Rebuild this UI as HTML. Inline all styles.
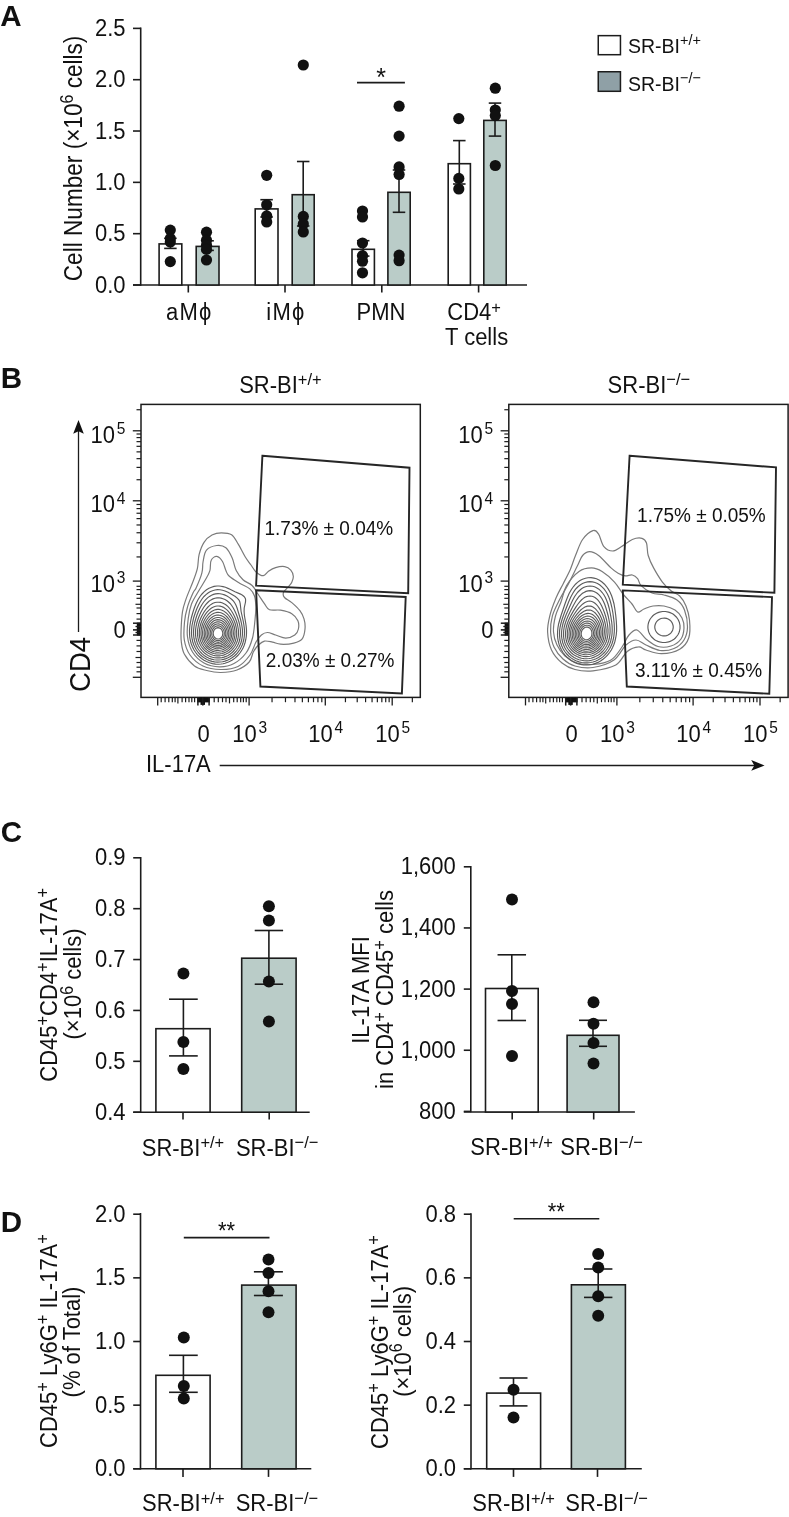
<!DOCTYPE html>
<html><head><meta charset="utf-8"><style>
html,body{margin:0;padding:0;background:#fff;width:789px;height:1517px;overflow:hidden}
svg{display:block;will-change:transform}
text{font-family:"Liberation Sans",sans-serif;fill:#111}
</style></head><body>
<svg width="789" height="1517" viewBox="0 0 789 1517">
<text x="0.30" y="26.40" font-size="29.5" text-anchor="start" font-weight="bold" >A</text>
<line x1="140.70" y1="27.50" x2="140.70" y2="285.80" stroke="#1c1c1c" stroke-width="1.6"/>
<line x1="133.00" y1="285.00" x2="527.00" y2="285.00" stroke="#1c1c1c" stroke-width="1.6"/>
<line x1="133.00" y1="28.38" x2="140.70" y2="28.38" stroke="#1c1c1c" stroke-width="1.6"/>
<text transform="translate(125.50,35.88) scale(1,1.05)" x="0" y="0" font-size="22" text-anchor="end" >2.5</text>
<line x1="133.00" y1="79.70" x2="140.70" y2="79.70" stroke="#1c1c1c" stroke-width="1.6"/>
<text transform="translate(125.50,87.20) scale(1,1.05)" x="0" y="0" font-size="22" text-anchor="end" >2.0</text>
<line x1="133.00" y1="131.02" x2="140.70" y2="131.02" stroke="#1c1c1c" stroke-width="1.6"/>
<text transform="translate(125.50,138.52) scale(1,1.05)" x="0" y="0" font-size="22" text-anchor="end" >1.5</text>
<line x1="133.00" y1="182.35" x2="140.70" y2="182.35" stroke="#1c1c1c" stroke-width="1.6"/>
<text transform="translate(125.50,189.85) scale(1,1.05)" x="0" y="0" font-size="22" text-anchor="end" >1.0</text>
<line x1="133.00" y1="233.68" x2="140.70" y2="233.68" stroke="#1c1c1c" stroke-width="1.6"/>
<text transform="translate(125.50,241.18) scale(1,1.05)" x="0" y="0" font-size="22" text-anchor="end" >0.5</text>
<line x1="133.00" y1="285.00" x2="140.70" y2="285.00" stroke="#1c1c1c" stroke-width="1.6"/>
<text transform="translate(125.50,292.50) scale(1,1.05)" x="0" y="0" font-size="22" text-anchor="end" >0.0</text>
<line x1="188.30" y1="285.00" x2="188.30" y2="292.50" stroke="#1c1c1c" stroke-width="1.6"/>
<line x1="285.00" y1="285.00" x2="285.00" y2="292.50" stroke="#1c1c1c" stroke-width="1.6"/>
<line x1="381.80" y1="285.00" x2="381.80" y2="292.50" stroke="#1c1c1c" stroke-width="1.6"/>
<line x1="478.60" y1="285.00" x2="478.60" y2="292.50" stroke="#1c1c1c" stroke-width="1.6"/>
<rect x="159.10" y="243.90" width="22.70" height="41.10" fill="#fff" stroke="#1c1c1c" stroke-width="1.6"/>
<rect x="196.20" y="246.40" width="22.80" height="38.60" fill="#baccc8" stroke="#1c1c1c" stroke-width="1.6"/>
<rect x="255.20" y="208.90" width="22.80" height="76.10" fill="#fff" stroke="#1c1c1c" stroke-width="1.6"/>
<rect x="292.20" y="194.70" width="22.00" height="90.30" fill="#baccc8" stroke="#1c1c1c" stroke-width="1.6"/>
<rect x="352.00" y="249.30" width="22.40" height="35.70" fill="#fff" stroke="#1c1c1c" stroke-width="1.6"/>
<rect x="387.90" y="192.30" width="22.30" height="92.70" fill="#baccc8" stroke="#1c1c1c" stroke-width="1.6"/>
<rect x="448.20" y="163.70" width="22.20" height="121.30" fill="#fff" stroke="#1c1c1c" stroke-width="1.6"/>
<rect x="483.80" y="120.40" width="22.40" height="164.60" fill="#baccc8" stroke="#1c1c1c" stroke-width="1.6"/>
<line x1="170.40" y1="238.30" x2="170.40" y2="248.40" stroke="#1c1c1c" stroke-width="1.6"/>
<line x1="164.15" y1="238.30" x2="176.65" y2="238.30" stroke="#1c1c1c" stroke-width="1.6"/>
<line x1="164.15" y1="248.40" x2="176.65" y2="248.40" stroke="#1c1c1c" stroke-width="1.6"/>
<line x1="207.60" y1="240.80" x2="207.60" y2="250.40" stroke="#1c1c1c" stroke-width="1.6"/>
<line x1="201.35" y1="240.80" x2="213.85" y2="240.80" stroke="#1c1c1c" stroke-width="1.6"/>
<line x1="201.35" y1="250.40" x2="213.85" y2="250.40" stroke="#1c1c1c" stroke-width="1.6"/>
<line x1="266.60" y1="199.70" x2="266.60" y2="217.00" stroke="#1c1c1c" stroke-width="1.6"/>
<line x1="260.35" y1="199.70" x2="272.85" y2="199.70" stroke="#1c1c1c" stroke-width="1.6"/>
<line x1="260.35" y1="217.00" x2="272.85" y2="217.00" stroke="#1c1c1c" stroke-width="1.6"/>
<line x1="303.20" y1="161.50" x2="303.20" y2="226.00" stroke="#1c1c1c" stroke-width="1.6"/>
<line x1="296.95" y1="161.50" x2="309.45" y2="161.50" stroke="#1c1c1c" stroke-width="1.6"/>
<line x1="296.95" y1="226.00" x2="309.45" y2="226.00" stroke="#1c1c1c" stroke-width="1.6"/>
<line x1="363.20" y1="240.70" x2="363.20" y2="256.10" stroke="#1c1c1c" stroke-width="1.6"/>
<line x1="356.95" y1="240.70" x2="369.45" y2="240.70" stroke="#1c1c1c" stroke-width="1.6"/>
<line x1="356.95" y1="256.10" x2="369.45" y2="256.10" stroke="#1c1c1c" stroke-width="1.6"/>
<line x1="399.00" y1="170.00" x2="399.00" y2="212.30" stroke="#1c1c1c" stroke-width="1.6"/>
<line x1="392.75" y1="170.00" x2="405.25" y2="170.00" stroke="#1c1c1c" stroke-width="1.6"/>
<line x1="392.75" y1="212.30" x2="405.25" y2="212.30" stroke="#1c1c1c" stroke-width="1.6"/>
<line x1="459.30" y1="140.60" x2="459.30" y2="184.00" stroke="#1c1c1c" stroke-width="1.6"/>
<line x1="453.05" y1="140.60" x2="465.55" y2="140.60" stroke="#1c1c1c" stroke-width="1.6"/>
<line x1="453.05" y1="184.00" x2="465.55" y2="184.00" stroke="#1c1c1c" stroke-width="1.6"/>
<line x1="495.00" y1="103.10" x2="495.00" y2="136.10" stroke="#1c1c1c" stroke-width="1.6"/>
<line x1="488.75" y1="103.10" x2="501.25" y2="103.10" stroke="#1c1c1c" stroke-width="1.6"/>
<line x1="488.75" y1="136.10" x2="501.25" y2="136.10" stroke="#1c1c1c" stroke-width="1.6"/>
<circle cx="170.30" cy="230.10" r="5.6" fill="#111"/>
<circle cx="170.30" cy="238.50" r="5.6" fill="#111"/>
<circle cx="170.30" cy="242.00" r="5.6" fill="#111"/>
<circle cx="170.30" cy="261.60" r="5.6" fill="#111"/>
<circle cx="206.50" cy="232.20" r="5.6" fill="#111"/>
<circle cx="206.50" cy="240.30" r="5.6" fill="#111"/>
<circle cx="206.50" cy="245.30" r="5.6" fill="#111"/>
<circle cx="206.50" cy="249.40" r="5.6" fill="#111"/>
<circle cx="206.50" cy="260.00" r="5.6" fill="#111"/>
<circle cx="266.70" cy="175.30" r="5.6" fill="#111"/>
<circle cx="266.70" cy="204.80" r="5.6" fill="#111"/>
<circle cx="266.70" cy="215.90" r="5.6" fill="#111"/>
<circle cx="266.70" cy="222.00" r="5.6" fill="#111"/>
<circle cx="303.30" cy="65.00" r="5.6" fill="#111"/>
<circle cx="303.30" cy="216.40" r="5.6" fill="#111"/>
<circle cx="303.30" cy="224.00" r="5.6" fill="#111"/>
<circle cx="303.30" cy="232.00" r="5.6" fill="#111"/>
<circle cx="362.50" cy="211.00" r="5.6" fill="#111"/>
<circle cx="362.50" cy="217.00" r="5.6" fill="#111"/>
<circle cx="362.50" cy="243.00" r="5.6" fill="#111"/>
<circle cx="362.50" cy="255.60" r="5.6" fill="#111"/>
<circle cx="362.50" cy="261.20" r="5.6" fill="#111"/>
<circle cx="362.50" cy="272.80" r="5.6" fill="#111"/>
<circle cx="399.10" cy="106.20" r="5.6" fill="#111"/>
<circle cx="399.10" cy="136.10" r="5.6" fill="#111"/>
<circle cx="399.10" cy="166.90" r="5.6" fill="#111"/>
<circle cx="399.10" cy="174.50" r="5.6" fill="#111"/>
<circle cx="399.10" cy="255.10" r="5.6" fill="#111"/>
<circle cx="399.10" cy="260.70" r="5.6" fill="#111"/>
<circle cx="458.80" cy="118.60" r="5.6" fill="#111"/>
<circle cx="458.80" cy="178.40" r="5.6" fill="#111"/>
<circle cx="458.80" cy="189.00" r="5.6" fill="#111"/>
<circle cx="495.30" cy="88.20" r="5.6" fill="#111"/>
<circle cx="495.30" cy="110.00" r="5.6" fill="#111"/>
<circle cx="495.30" cy="115.60" r="5.6" fill="#111"/>
<circle cx="495.30" cy="165.50" r="5.6" fill="#111"/>
<line x1="357.00" y1="82.60" x2="404.90" y2="82.60" stroke="#1c1c1c" stroke-width="1.6"/>
<text transform="translate(381.00,86.30) scale(1,1.05)" x="0" y="0" font-size="25" text-anchor="middle" >*</text>
<text transform="translate(189.30,320.00) scale(1,1.05)" x="0" y="0" font-size="22" text-anchor="middle" letter-spacing="1.3">aMϕ</text>
<text transform="translate(286.00,320.00) scale(1,1.05)" x="0" y="0" font-size="22" text-anchor="middle" letter-spacing="1.3">iMϕ</text>
<text transform="translate(381.00,320.00) scale(1,1.05)" x="0" y="0" font-size="22" text-anchor="middle" >PMN</text>
<text transform="translate(447.30,320.00) scale(1,1.05)" x="0" y="0" font-size="22" text-anchor="start" >CD4<tspan font-size="16.5" dy="-7">+</tspan></text>
<text transform="translate(445.00,345.40) scale(1,1.05)" x="0" y="0" font-size="22" text-anchor="start" >T cells</text>
<text transform="translate(81.70,158.40) rotate(-90) scale(1,1.1)" x="0" y="0" font-size="22.6" text-anchor="middle">Cell Number (×10<tspan font-size="16" dy="-8">6</tspan><tspan dy="8"> cells)</tspan></text>
<rect x="598.25" y="35.65" width="22.20" height="19.05" fill="#fff" stroke="#1c1c1c" stroke-width="1.5"/>
<rect x="598.25" y="71.75" width="22.20" height="19.55" fill="#8fa0a6" stroke="#1c1c1c" stroke-width="1.5"/>
<text transform="translate(628.00,53.20) scale(1,1.05)" x="0" y="0" font-size="19.5" text-anchor="start" >SR-BI<tspan font-size="14.5" dy="-7.5">+/+</tspan></text>
<text transform="translate(628.00,90.50) scale(1,1.05)" x="0" y="0" font-size="19.5" text-anchor="start" >SR-BI<tspan font-size="14.5" dy="-7.5">−/−</tspan></text>
<text x="0.80" y="842.00" font-size="29.5" text-anchor="start" font-weight="bold" >C</text>
<line x1="140.70" y1="857.00" x2="140.70" y2="1113.00" stroke="#1c1c1c" stroke-width="1.6"/>
<line x1="133.20" y1="1112.20" x2="309.70" y2="1112.20" stroke="#1c1c1c" stroke-width="1.6"/>
<line x1="133.20" y1="857.80" x2="140.70" y2="857.80" stroke="#1c1c1c" stroke-width="1.6"/>
<text transform="translate(125.50,865.30) scale(1,1.05)" x="0" y="0" font-size="22" text-anchor="end" >0.9</text>
<line x1="133.20" y1="908.68" x2="140.70" y2="908.68" stroke="#1c1c1c" stroke-width="1.6"/>
<text transform="translate(125.50,916.18) scale(1,1.05)" x="0" y="0" font-size="22" text-anchor="end" >0.8</text>
<line x1="133.20" y1="959.56" x2="140.70" y2="959.56" stroke="#1c1c1c" stroke-width="1.6"/>
<text transform="translate(125.50,967.06) scale(1,1.05)" x="0" y="0" font-size="22" text-anchor="end" >0.7</text>
<line x1="133.20" y1="1010.44" x2="140.70" y2="1010.44" stroke="#1c1c1c" stroke-width="1.6"/>
<text transform="translate(125.50,1017.94) scale(1,1.05)" x="0" y="0" font-size="22" text-anchor="end" >0.6</text>
<line x1="133.20" y1="1061.32" x2="140.70" y2="1061.32" stroke="#1c1c1c" stroke-width="1.6"/>
<text transform="translate(125.50,1068.82) scale(1,1.05)" x="0" y="0" font-size="22" text-anchor="end" >0.5</text>
<line x1="133.20" y1="1112.20" x2="140.70" y2="1112.20" stroke="#1c1c1c" stroke-width="1.6"/>
<text transform="translate(125.50,1119.70) scale(1,1.05)" x="0" y="0" font-size="22" text-anchor="end" >0.4</text>
<line x1="183.00" y1="1112.20" x2="183.00" y2="1119.50" stroke="#1c1c1c" stroke-width="1.6"/>
<line x1="269.20" y1="1112.20" x2="269.20" y2="1119.50" stroke="#1c1c1c" stroke-width="1.6"/>
<rect x="155.90" y="1028.70" width="54.20" height="83.50" fill="#fff" stroke="#1c1c1c" stroke-width="1.6"/>
<rect x="241.70" y="958.20" width="54.40" height="154.00" fill="#baccc8" stroke="#1c1c1c" stroke-width="1.6"/>
<line x1="183.40" y1="999.20" x2="183.40" y2="1055.90" stroke="#1c1c1c" stroke-width="1.6"/>
<line x1="169.05" y1="999.20" x2="197.75" y2="999.20" stroke="#1c1c1c" stroke-width="1.6"/>
<line x1="169.05" y1="1055.90" x2="197.75" y2="1055.90" stroke="#1c1c1c" stroke-width="1.6"/>
<line x1="268.90" y1="930.50" x2="268.90" y2="984.20" stroke="#1c1c1c" stroke-width="1.6"/>
<line x1="254.70" y1="930.50" x2="283.10" y2="930.50" stroke="#1c1c1c" stroke-width="1.6"/>
<line x1="254.70" y1="984.20" x2="283.10" y2="984.20" stroke="#1c1c1c" stroke-width="1.6"/>
<circle cx="183.40" cy="973.40" r="6" fill="#111"/>
<circle cx="183.40" cy="1041.90" r="6" fill="#111"/>
<circle cx="183.40" cy="1068.90" r="6" fill="#111"/>
<circle cx="268.90" cy="906.20" r="6" fill="#111"/>
<circle cx="268.90" cy="920.60" r="6" fill="#111"/>
<circle cx="268.90" cy="981.60" r="6" fill="#111"/>
<circle cx="268.90" cy="1021.40" r="6" fill="#111"/>
<text transform="translate(183.00,1155.70) scale(1,1.05)" x="0" y="0" font-size="22" text-anchor="middle" >SR-BI<tspan font-size="16.5" dy="-7">+/+</tspan></text>
<text transform="translate(277.20,1155.70) scale(1,1.05)" x="0" y="0" font-size="22" text-anchor="middle" >SR-BI<tspan font-size="16.5" dy="-7">−/−</tspan></text>
<text transform="translate(56.60,984.80) rotate(-90) scale(1,1.1)" x="0" y="0" font-size="22" text-anchor="middle">CD45<tspan font-size="16.5" dy="-7">+</tspan><tspan dy="7">CD4</tspan><tspan font-size="16.5" dy="-7">+</tspan><tspan dy="7">IL-17A</tspan><tspan font-size="16.5" dy="-7">+</tspan></text>
<text transform="translate(81.40,984.00) rotate(-90) scale(1,1.1)" x="0" y="0" font-size="22" text-anchor="middle">(×10<tspan font-size="16" dy="-8">6</tspan><tspan dy="8"> cells)</tspan></text>
<line x1="470.80" y1="866.00" x2="470.80" y2="1112.20" stroke="#1c1c1c" stroke-width="1.6"/>
<line x1="463.80" y1="1112.00" x2="634.90" y2="1112.00" stroke="#1c1c1c" stroke-width="1.6"/>
<line x1="463.80" y1="866.80" x2="470.80" y2="866.80" stroke="#1c1c1c" stroke-width="1.6"/>
<text transform="translate(455.80,874.30) scale(1,1.05)" x="0" y="0" font-size="22" text-anchor="end" >1,600</text>
<line x1="463.80" y1="927.95" x2="470.80" y2="927.95" stroke="#1c1c1c" stroke-width="1.6"/>
<text transform="translate(455.80,935.45) scale(1,1.05)" x="0" y="0" font-size="22" text-anchor="end" >1,400</text>
<line x1="463.80" y1="989.10" x2="470.80" y2="989.10" stroke="#1c1c1c" stroke-width="1.6"/>
<text transform="translate(455.80,996.60) scale(1,1.05)" x="0" y="0" font-size="22" text-anchor="end" >1,200</text>
<line x1="463.80" y1="1050.25" x2="470.80" y2="1050.25" stroke="#1c1c1c" stroke-width="1.6"/>
<text transform="translate(455.80,1057.75) scale(1,1.05)" x="0" y="0" font-size="22" text-anchor="end" >1,000</text>
<line x1="463.80" y1="1111.40" x2="470.80" y2="1111.40" stroke="#1c1c1c" stroke-width="1.6"/>
<text transform="translate(455.80,1118.90) scale(1,1.05)" x="0" y="0" font-size="22" text-anchor="end" >800</text>
<line x1="512.20" y1="1112.00" x2="512.20" y2="1119.50" stroke="#1c1c1c" stroke-width="1.6"/>
<line x1="593.70" y1="1112.00" x2="593.70" y2="1119.50" stroke="#1c1c1c" stroke-width="1.6"/>
<rect x="485.50" y="988.50" width="52.70" height="123.50" fill="#fff" stroke="#1c1c1c" stroke-width="1.6"/>
<rect x="567.10" y="1035.30" width="51.90" height="76.70" fill="#baccc8" stroke="#1c1c1c" stroke-width="1.6"/>
<line x1="511.80" y1="954.80" x2="511.80" y2="1020.50" stroke="#1c1c1c" stroke-width="1.6"/>
<line x1="497.55" y1="954.80" x2="526.05" y2="954.80" stroke="#1c1c1c" stroke-width="1.6"/>
<line x1="497.55" y1="1020.50" x2="526.05" y2="1020.50" stroke="#1c1c1c" stroke-width="1.6"/>
<line x1="593.00" y1="1020.30" x2="593.00" y2="1046.30" stroke="#1c1c1c" stroke-width="1.6"/>
<line x1="579.00" y1="1020.30" x2="607.00" y2="1020.30" stroke="#1c1c1c" stroke-width="1.6"/>
<line x1="579.00" y1="1046.30" x2="607.00" y2="1046.30" stroke="#1c1c1c" stroke-width="1.6"/>
<circle cx="512.00" cy="899.40" r="6" fill="#111"/>
<circle cx="512.00" cy="991.00" r="6" fill="#111"/>
<circle cx="512.00" cy="1003.90" r="6" fill="#111"/>
<circle cx="512.00" cy="1056.00" r="6" fill="#111"/>
<circle cx="593.50" cy="1002.20" r="6" fill="#111"/>
<circle cx="593.50" cy="1023.70" r="6" fill="#111"/>
<circle cx="593.50" cy="1043.10" r="6" fill="#111"/>
<circle cx="593.50" cy="1063.50" r="6" fill="#111"/>
<text transform="translate(511.60,1155.00) scale(1,1.05)" x="0" y="0" font-size="22" text-anchor="middle" >SR-BI<tspan font-size="16.5" dy="-7">+/+</tspan></text>
<text transform="translate(601.60,1155.00) scale(1,1.05)" x="0" y="0" font-size="22" text-anchor="middle" >SR-BI<tspan font-size="16.5" dy="-7">−/−</tspan></text>
<text transform="translate(369.40,990.00) rotate(-90) scale(1,1.1)" x="0" y="0" font-size="22" text-anchor="middle">IL-17A MFI</text>
<text transform="translate(393.40,989.50) rotate(-90) scale(1,1.1)" x="0" y="0" font-size="22" text-anchor="middle">in CD4<tspan font-size="16.5" dy="-7">+</tspan><tspan dy="7"> CD45</tspan><tspan font-size="16.5" dy="-7">+</tspan><tspan dy="7"> cells</tspan></text>
<text x="0.80" y="1232.20" font-size="29.5" text-anchor="start" font-weight="bold" >D</text>
<line x1="140.50" y1="1213.10" x2="140.50" y2="1469.60" stroke="#1c1c1c" stroke-width="1.6"/>
<line x1="133.20" y1="1468.80" x2="311.30" y2="1468.80" stroke="#1c1c1c" stroke-width="1.6"/>
<line x1="133.20" y1="1214.20" x2="140.50" y2="1214.20" stroke="#1c1c1c" stroke-width="1.6"/>
<text transform="translate(125.50,1221.70) scale(1,1.05)" x="0" y="0" font-size="22" text-anchor="end" >2.0</text>
<line x1="133.20" y1="1277.85" x2="140.50" y2="1277.85" stroke="#1c1c1c" stroke-width="1.6"/>
<text transform="translate(125.50,1285.35) scale(1,1.05)" x="0" y="0" font-size="22" text-anchor="end" >1.5</text>
<line x1="133.20" y1="1341.50" x2="140.50" y2="1341.50" stroke="#1c1c1c" stroke-width="1.6"/>
<text transform="translate(125.50,1349.00) scale(1,1.05)" x="0" y="0" font-size="22" text-anchor="end" >1.0</text>
<line x1="133.20" y1="1405.15" x2="140.50" y2="1405.15" stroke="#1c1c1c" stroke-width="1.6"/>
<text transform="translate(125.50,1412.65) scale(1,1.05)" x="0" y="0" font-size="22" text-anchor="end" >0.5</text>
<line x1="133.20" y1="1468.80" x2="140.50" y2="1468.80" stroke="#1c1c1c" stroke-width="1.6"/>
<text transform="translate(125.50,1476.30) scale(1,1.05)" x="0" y="0" font-size="22" text-anchor="end" >0.0</text>
<line x1="183.00" y1="1468.80" x2="183.00" y2="1476.90" stroke="#1c1c1c" stroke-width="1.6"/>
<line x1="268.50" y1="1468.80" x2="268.50" y2="1476.90" stroke="#1c1c1c" stroke-width="1.6"/>
<rect x="155.90" y="1375.30" width="54.20" height="93.50" fill="#fff" stroke="#1c1c1c" stroke-width="1.6"/>
<rect x="241.70" y="1285.10" width="54.40" height="183.70" fill="#baccc8" stroke="#1c1c1c" stroke-width="1.6"/>
<line x1="183.40" y1="1355.30" x2="183.40" y2="1392.30" stroke="#1c1c1c" stroke-width="1.6"/>
<line x1="169.05" y1="1355.30" x2="197.75" y2="1355.30" stroke="#1c1c1c" stroke-width="1.6"/>
<line x1="169.05" y1="1392.30" x2="197.75" y2="1392.30" stroke="#1c1c1c" stroke-width="1.6"/>
<line x1="268.40" y1="1271.80" x2="268.40" y2="1295.50" stroke="#1c1c1c" stroke-width="1.6"/>
<line x1="253.90" y1="1271.80" x2="282.90" y2="1271.80" stroke="#1c1c1c" stroke-width="1.6"/>
<line x1="253.90" y1="1295.50" x2="282.90" y2="1295.50" stroke="#1c1c1c" stroke-width="1.6"/>
<circle cx="183.80" cy="1337.60" r="6" fill="#111"/>
<circle cx="183.80" cy="1385.90" r="6" fill="#111"/>
<circle cx="183.80" cy="1398.60" r="6" fill="#111"/>
<circle cx="268.50" cy="1259.60" r="6" fill="#111"/>
<circle cx="268.50" cy="1273.10" r="6" fill="#111"/>
<circle cx="268.50" cy="1291.20" r="6" fill="#111"/>
<circle cx="268.50" cy="1312.30" r="6" fill="#111"/>
<line x1="183.80" y1="1237.60" x2="269.50" y2="1237.60" stroke="#1c1c1c" stroke-width="1.6"/>
<text transform="translate(226.60,1239.30) scale(1,1.05)" x="0" y="0" font-size="22" text-anchor="middle" >**</text>
<text transform="translate(183.30,1511.00) scale(1,1.05)" x="0" y="0" font-size="22" text-anchor="middle" >SR-BI<tspan font-size="16.5" dy="-7">+/+</tspan></text>
<text transform="translate(276.90,1511.00) scale(1,1.05)" x="0" y="0" font-size="22" text-anchor="middle" >SR-BI<tspan font-size="16.5" dy="-7">−/−</tspan></text>
<text transform="translate(57.10,1341.00) rotate(-90) scale(1,1.1)" x="0" y="0" font-size="22" text-anchor="middle">CD45<tspan font-size="16.5" dy="-7">+</tspan><tspan dy="7"> Ly6G</tspan><tspan font-size="16.5" dy="-7">+</tspan><tspan dy="7"> IL-17A</tspan><tspan font-size="16.5" dy="-7">+</tspan></text>
<text transform="translate(80.30,1342.00) rotate(-90) scale(1,1.1)" x="0" y="0" font-size="22" text-anchor="middle">(% of Total)</text>
<line x1="471.00" y1="1213.20" x2="471.00" y2="1469.60" stroke="#1c1c1c" stroke-width="1.6"/>
<line x1="463.80" y1="1468.80" x2="641.80" y2="1468.80" stroke="#1c1c1c" stroke-width="1.6"/>
<line x1="463.80" y1="1214.20" x2="471.00" y2="1214.20" stroke="#1c1c1c" stroke-width="1.6"/>
<text transform="translate(456.00,1221.70) scale(1,1.05)" x="0" y="0" font-size="22" text-anchor="end" >0.8</text>
<line x1="463.80" y1="1277.85" x2="471.00" y2="1277.85" stroke="#1c1c1c" stroke-width="1.6"/>
<text transform="translate(456.00,1285.35) scale(1,1.05)" x="0" y="0" font-size="22" text-anchor="end" >0.6</text>
<line x1="463.80" y1="1341.50" x2="471.00" y2="1341.50" stroke="#1c1c1c" stroke-width="1.6"/>
<text transform="translate(456.00,1349.00) scale(1,1.05)" x="0" y="0" font-size="22" text-anchor="end" >0.4</text>
<line x1="463.80" y1="1405.15" x2="471.00" y2="1405.15" stroke="#1c1c1c" stroke-width="1.6"/>
<text transform="translate(456.00,1412.65) scale(1,1.05)" x="0" y="0" font-size="22" text-anchor="end" >0.2</text>
<line x1="463.80" y1="1468.80" x2="471.00" y2="1468.80" stroke="#1c1c1c" stroke-width="1.6"/>
<text transform="translate(456.00,1476.30) scale(1,1.05)" x="0" y="0" font-size="22" text-anchor="end" >0.0</text>
<line x1="513.50" y1="1468.80" x2="513.50" y2="1476.90" stroke="#1c1c1c" stroke-width="1.6"/>
<line x1="597.50" y1="1468.80" x2="597.50" y2="1476.90" stroke="#1c1c1c" stroke-width="1.6"/>
<rect x="486.70" y="1393.10" width="53.90" height="75.70" fill="#fff" stroke="#1c1c1c" stroke-width="1.6"/>
<rect x="571.40" y="1284.80" width="54.00" height="184.00" fill="#baccc8" stroke="#1c1c1c" stroke-width="1.6"/>
<line x1="513.50" y1="1378.00" x2="513.50" y2="1405.90" stroke="#1c1c1c" stroke-width="1.6"/>
<line x1="499.50" y1="1378.00" x2="527.50" y2="1378.00" stroke="#1c1c1c" stroke-width="1.6"/>
<line x1="499.50" y1="1405.90" x2="527.50" y2="1405.90" stroke="#1c1c1c" stroke-width="1.6"/>
<line x1="598.20" y1="1269.00" x2="598.20" y2="1297.40" stroke="#1c1c1c" stroke-width="1.6"/>
<line x1="584.00" y1="1269.00" x2="612.40" y2="1269.00" stroke="#1c1c1c" stroke-width="1.6"/>
<line x1="584.00" y1="1297.40" x2="612.40" y2="1297.40" stroke="#1c1c1c" stroke-width="1.6"/>
<circle cx="513.50" cy="1389.70" r="6" fill="#111"/>
<circle cx="513.50" cy="1417.60" r="6" fill="#111"/>
<circle cx="598.20" cy="1253.90" r="6" fill="#111"/>
<circle cx="598.20" cy="1267.40" r="6" fill="#111"/>
<circle cx="598.20" cy="1296.30" r="6" fill="#111"/>
<circle cx="598.20" cy="1315.70" r="6" fill="#111"/>
<line x1="513.70" y1="1218.70" x2="599.30" y2="1218.70" stroke="#1c1c1c" stroke-width="1.6"/>
<text transform="translate(556.20,1220.30) scale(1,1.05)" x="0" y="0" font-size="22" text-anchor="middle" >**</text>
<text transform="translate(513.60,1511.00) scale(1,1.05)" x="0" y="0" font-size="22" text-anchor="middle" >SR-BI<tspan font-size="16.5" dy="-7">+/+</tspan></text>
<text transform="translate(606.60,1511.00) scale(1,1.05)" x="0" y="0" font-size="22" text-anchor="middle" >SR-BI<tspan font-size="16.5" dy="-7">−/−</tspan></text>
<text transform="translate(387.70,1342.00) rotate(-90) scale(1,1.1)" x="0" y="0" font-size="22" text-anchor="middle">CD45<tspan font-size="16.5" dy="-7">+</tspan><tspan dy="7"> Ly6G</tspan><tspan font-size="16.5" dy="-7">+</tspan><tspan dy="7"> IL-17A</tspan><tspan font-size="16.5" dy="-7">+</tspan></text>
<text transform="translate(411.00,1341.40) rotate(-90) scale(1,1.1)" x="0" y="0" font-size="22" text-anchor="middle">(×10<tspan font-size="16" dy="-8">6</tspan><tspan dy="8"> cells)</tspan></text>
<g fill="none" stroke="#7a7a7a" stroke-width="1.2"><path d="M221.3,532.8 C224.6,532.8 228.8,532.8 231.6,534.7 C234.4,536.6 236.1,540.7 238.4,544.4 C240.7,548.1 243.2,553.6 245.3,557.0 C247.4,560.4 249.2,562.5 251.0,565.0 C252.8,567.5 254.2,570.4 256.3,572.2 C258.4,574.0 261.4,575.9 263.4,575.7 C265.4,575.5 266.5,572.6 268.5,571.2 C270.5,569.9 272.9,568.4 275.6,567.6 C278.3,566.8 282.2,566.2 284.7,566.6 C287.2,567.0 289.4,568.5 290.8,570.1 C292.2,571.7 293.1,574.2 293.3,576.2 C293.5,578.2 292.6,580.6 291.8,582.3 C291.0,584.0 290.1,584.7 288.7,586.4 C287.3,588.1 284.2,590.5 283.5,592.4 C282.8,594.2 283.1,595.8 284.5,597.5 C285.9,599.2 289.2,600.4 291.8,602.6 C294.4,604.8 297.9,608.0 299.9,610.7 C301.9,613.4 303.1,615.8 304.0,618.8 C304.9,621.8 305.3,625.6 305.0,629.0 C304.7,632.4 303.9,636.8 302.0,639.1 C300.1,641.5 297.4,642.2 293.8,643.1 C290.2,644.0 284.2,644.4 280.6,644.2 C277.1,644.0 275.2,642.6 272.5,642.1 C269.8,641.6 266.7,640.6 264.4,641.1 C262.1,641.6 260.4,643.2 258.5,645.0 C256.6,646.8 254.9,649.2 253.3,652.0 C251.8,654.8 251.9,659.0 249.2,662.0 C246.5,665.0 241.7,668.2 237.0,670.0 C232.3,671.8 225.9,672.4 220.8,672.5 C215.7,672.6 211.0,671.6 206.6,670.5 C202.2,669.4 198.2,668.8 194.5,666.0 C190.8,663.2 186.5,658.0 184.3,654.0 C182.1,650.0 181.8,645.8 181.3,641.7 C180.8,637.6 180.9,634.5 181.1,629.5 C181.3,624.5 181.7,616.8 182.5,611.7 C183.3,606.6 184.3,604.1 186.0,599.1 C187.7,594.1 190.9,587.1 192.8,582.0 C194.7,576.9 196.4,572.8 197.4,568.3 C198.4,563.8 198.0,559.1 199.1,554.7 C200.2,550.3 202.0,545.4 204.2,542.1 C206.3,538.8 209.2,536.5 212.0,535.0 C214.8,533.5 218.0,532.8 221.3,532.8Z"/><path d="M216.8,545.5 C220.0,545.1 223.3,545.7 225.9,547.8 C228.5,549.9 230.5,554.3 232.2,558.1 C233.9,561.9 234.4,567.0 236.2,570.6 C238.0,574.2 240.3,577.3 243.0,579.8 C245.7,582.3 249.5,583.0 252.1,585.5 C254.7,588.0 256.2,591.5 258.3,594.5 C260.4,597.5 262.5,601.1 264.4,603.6 C266.3,606.1 266.8,608.6 269.5,609.7 C272.2,610.8 276.9,609.5 280.6,610.2 C284.3,610.9 288.9,611.9 291.8,613.7 C294.7,615.5 296.8,618.2 297.9,620.8 C299.0,623.3 298.9,626.6 298.4,629.0 C297.9,631.4 296.9,633.5 294.8,635.0 C292.7,636.5 288.9,638.1 285.7,638.1 C282.5,638.1 278.7,635.9 275.6,635.0 C272.6,634.1 269.8,632.5 267.4,632.5 C265.0,632.5 263.3,633.4 261.4,635.0 C259.5,636.6 257.9,638.7 256.0,642.0 C254.1,645.3 253.0,650.9 250.0,655.0 C247.0,659.1 242.9,664.1 238.0,666.5 C233.1,668.9 226.6,669.6 220.8,669.5 C215.0,669.4 208.1,668.4 203.0,666.0 C197.9,663.6 193.1,659.3 190.0,655.0 C186.9,650.7 185.2,645.5 184.3,640.0 C183.4,634.5 184.0,627.5 184.5,622.0 C185.0,616.5 186.1,611.8 187.5,607.0 C188.9,602.2 191.6,596.2 193.0,593.0 C194.4,589.8 194.7,591.1 196.2,587.7 C197.7,584.4 200.8,577.3 201.9,572.9 C203.1,568.5 202.3,565.3 203.1,561.5 C203.9,557.7 204.2,552.8 206.5,550.1 C208.8,547.4 213.6,545.9 216.8,545.5Z"/><path d="M216.8,556.4 C218.7,556.6 221.0,559.1 222.5,561.5 C224.0,563.9 224.8,568.1 225.9,570.6 C227.0,573.1 227.0,574.2 229.3,576.3 C231.6,578.4 236.2,581.1 239.6,583.2 C243.0,585.3 247.3,586.8 249.8,588.9 C252.3,591.0 253.5,593.1 254.5,596.0 C255.5,598.9 255.7,602.0 255.8,606.0 C255.9,610.0 255.6,614.7 255.0,620.0 C254.4,625.3 254.0,632.5 252.5,638.0 C251.0,643.5 249.1,648.8 246.0,653.0 C242.9,657.2 238.4,661.2 234.0,663.5 C229.6,665.8 224.5,666.9 219.5,666.8 C214.5,666.7 208.5,665.5 204.0,663.0 C199.5,660.5 195.3,656.5 192.5,652.0 C189.7,647.5 188.1,641.7 187.4,636.0 C186.7,630.3 187.6,623.3 188.3,618.0 C189.0,612.7 189.8,608.5 191.5,604.0 C193.2,599.5 196.2,595.2 198.5,591.2 C200.8,587.2 203.5,583.2 205.4,579.8 C207.3,576.4 209.0,573.8 209.9,570.6 C210.8,567.4 209.9,562.8 211.1,560.4 C212.2,558.0 214.9,556.2 216.8,556.4Z"/><path d="M592.9,530.6 C595.6,529.7 596.8,531.5 598.6,534.2 C600.4,536.9 601.5,543.8 603.9,546.6 C606.2,549.4 609.8,551.0 612.7,551.0 C615.7,551.0 618.3,548.5 621.6,546.6 C624.9,544.7 628.9,540.9 632.3,539.5 C635.7,538.1 639.6,537.7 642.0,538.3 C644.4,538.9 645.5,540.1 646.5,543.0 C647.5,545.9 647.0,551.4 648.2,555.5 C649.4,559.6 651.2,563.5 653.6,567.9 C656.0,572.3 659.5,578.2 662.4,582.1 C665.3,586.0 668.4,588.7 671.3,591.0 C674.2,593.3 677.2,593.5 679.7,596.0 C682.2,598.5 684.4,602.0 686.0,606.0 C687.6,610.0 689.0,614.7 689.5,620.0 C690.0,625.3 690.4,632.9 688.8,637.8 C687.2,642.7 684.2,646.6 679.7,649.2 C675.2,651.9 667.1,653.6 661.5,653.7 C655.9,653.8 649.8,651.1 646.0,650.0 C642.2,648.9 641.7,646.6 638.6,646.9 C635.5,647.1 631.0,648.5 627.2,651.5 C623.4,654.5 621.5,661.8 615.8,665.0 C610.1,668.2 599.8,670.0 593.0,670.8 C586.2,671.5 580.2,670.8 575.0,669.5 C569.8,668.2 565.9,666.2 562.0,663.0 C558.1,659.8 553.9,655.2 551.5,650.0 C549.1,644.8 547.9,637.7 547.6,632.0 C547.3,626.3 548.4,621.5 549.8,615.8 C551.2,610.1 553.8,603.3 556.0,598.0 C558.2,592.7 560.7,588.6 563.1,583.9 C565.5,579.2 568.1,574.4 570.2,569.7 C572.3,565.0 573.4,560.5 575.5,555.5 C577.6,550.5 579.7,543.6 582.6,539.5 C585.5,535.4 590.2,531.5 592.9,530.6Z"/><path d="M589.7,551.6 C592.4,551.6 595.1,552.8 598.6,555.5 C602.1,558.2 607.8,564.9 611.0,567.9 C614.2,570.9 615.7,571.9 618.1,573.2 C620.5,574.5 622.8,575.6 625.2,575.9 C627.6,576.2 630.2,574.5 632.3,575.0 C634.4,575.5 636.1,576.8 637.6,578.6 C639.1,580.4 638.7,583.2 641.1,585.6 C643.5,588.0 648.2,591.4 652.0,593.0 C655.8,594.6 659.8,593.8 664.0,595.0 C668.2,596.2 673.6,597.5 677.0,600.0 C680.4,602.5 682.8,605.5 684.5,610.0 C686.2,614.5 687.6,622.0 687.5,627.0 C687.4,632.0 686.2,636.4 684.0,640.0 C681.8,643.6 678.0,646.8 674.0,648.5 C670.0,650.2 664.7,651.1 660.0,650.5 C655.3,649.9 650.0,646.8 646.0,645.0 C642.0,643.2 639.3,640.0 636.0,640.0 C632.7,640.0 629.7,641.7 626.0,645.0 C622.3,648.3 619.5,656.2 614.0,660.0 C608.5,663.8 599.5,666.5 593.0,667.5 C586.5,668.5 580.0,667.4 575.0,666.0 C570.0,664.6 566.5,662.2 563.0,659.0 C559.5,655.8 556.1,651.5 554.0,647.0 C551.9,642.5 550.9,637.2 550.6,632.0 C550.3,626.8 550.9,621.2 552.4,615.8 C553.9,610.4 556.8,605.1 559.5,599.8 C562.2,594.5 565.4,589.5 568.4,583.9 C571.4,578.3 574.9,570.8 577.3,566.1 C579.7,561.4 580.5,557.9 582.6,555.5 C584.7,553.1 587.0,551.6 589.7,551.6Z"/><path d="M591.5,567.9 C595.4,567.9 598.3,569.1 602.1,571.5 C605.9,573.9 611.0,578.3 614.5,582.1 C618.0,585.9 620.5,590.9 623.4,594.5 C626.3,598.1 629.6,601.1 632.0,604.0 C634.4,606.9 635.6,611.2 637.6,612.0 C639.6,612.8 641.4,610.0 644.0,609.0 C646.6,608.0 649.7,606.5 653.0,606.0 C656.3,605.5 660.3,605.3 664.0,606.0 C667.7,606.7 672.0,608.0 675.0,610.0 C678.0,612.0 680.5,615.0 682.0,618.0 C683.5,621.0 684.2,624.5 684.0,628.0 C683.8,631.5 683.2,636.0 681.0,639.0 C678.8,642.0 674.8,644.8 671.0,646.0 C667.2,647.2 662.2,647.7 658.0,646.5 C653.8,645.3 649.5,641.8 646.0,639.0 C642.5,636.2 639.8,630.7 637.0,630.0 C634.2,629.3 631.5,632.2 629.0,635.0 C626.5,637.8 625.0,642.8 622.0,647.0 C619.0,651.2 615.8,657.1 611.0,660.0 C606.2,662.9 598.7,664.0 593.0,664.5 C587.3,665.0 581.7,664.4 577.0,663.0 C572.3,661.6 568.3,659.0 565.0,656.0 C561.7,653.0 558.9,649.0 557.0,645.0 C555.1,641.0 553.8,636.8 553.5,632.0 C553.2,627.2 554.2,621.0 555.5,616.0 C556.8,611.0 559.1,607.1 561.0,602.0 C562.9,596.9 563.6,590.7 566.6,585.6 C569.6,580.5 574.9,574.5 579.0,571.5 C583.1,568.5 587.6,567.9 591.5,567.9Z"/></g>
<g fill="none" stroke="#5c5c5c" stroke-width="1.15"><path d="M221.0,664.0 218.5,664.2 215.5,664.1 212.5,663.6 209.5,662.8 206.5,661.6 204.0,660.2 201.5,658.5 199.5,656.8 197.5,654.8 195.7,652.5 194.0,650.0 192.5,647.0 191.3,644.0 190.5,641.0 189.8,637.5 189.6,634.5 189.5,630.5 189.8,626.5 190.4,622.5 191.3,618.0 192.7,613.0 194.3,608.0 196.1,603.5 198.1,599.5 200.0,596.5 202.0,594.0 204.0,591.9 206.5,589.8 209.0,588.3 211.5,587.2 214.0,586.4 217.0,586.0 219.0,586.0 221.0,586.2 223.0,586.6 225.5,587.3 228.5,588.6 235.0,591.7 240.5,594.1 242.5,595.2 244.0,596.5 245.1,598.0 245.5,599.0 245.6,600.0 245.5,602.0 244.2,608.0 244.1,611.5 244.4,615.5 245.7,623.0 246.2,626.5 246.5,630.0 246.5,633.5 246.3,636.5 245.8,639.5 245.1,642.5 244.1,645.5 243.3,647.5 242.2,649.5 240.3,652.5 237.8,655.5 235.0,658.1 232.0,660.2 228.5,662.0 225.0,663.3 223.0,663.7 221.0,664.0Z"/><path d="M220.0,662.0 217.5,662.1 214.5,661.9 212.0,661.4 209.5,660.6 207.0,659.6 204.5,658.1 202.0,656.3 200.0,654.5 198.2,652.5 196.4,650.0 195.0,647.5 193.8,645.0 192.8,642.0 192.2,639.5 191.7,636.5 191.5,633.5 191.6,630.0 191.9,626.0 192.7,622.0 193.6,618.0 195.2,613.0 196.7,609.0 198.5,605.0 200.4,601.5 202.0,599.0 204.0,596.5 206.0,594.6 208.0,593.0 210.0,591.8 212.5,590.7 215.0,590.0 217.5,589.7 220.0,589.8 222.5,590.2 225.0,591.0 228.0,592.3 231.5,594.2 235.3,596.5 237.5,598.3 239.0,600.0 239.7,601.5 240.2,603.5 241.1,611.5 243.3,621.5 243.9,625.0 244.3,628.0 244.5,631.0 244.5,634.0 244.2,637.0 243.7,640.0 243.0,642.5 242.2,645.0 241.0,647.5 239.6,650.0 238.0,652.2 236.5,654.0 234.4,656.0 232.0,657.8 230.0,659.0 227.5,660.2 225.0,661.1 222.5,661.7 220.0,662.0Z"/><path d="M219.0,660.0 216.5,660.0 214.0,659.7 211.5,659.1 209.0,658.2 206.5,657.0 204.5,655.7 202.5,654.1 200.9,652.5 199.2,650.5 197.8,648.5 196.4,646.0 195.4,643.5 194.6,641.0 194.0,638.5 193.7,636.0 193.5,633.0 193.6,630.0 194.0,626.5 194.6,623.0 195.7,619.0 197.0,615.0 198.6,611.0 200.3,607.5 202.0,604.5 203.7,602.0 205.5,599.8 207.5,597.9 209.5,596.4 211.5,595.2 213.5,594.4 215.5,593.9 218.0,593.6 220.0,593.7 222.5,594.2 224.5,594.9 227.0,596.1 229.5,597.6 231.9,599.5 233.5,601.2 234.8,603.0 235.9,605.0 237.0,607.8 240.7,620.0 241.5,623.5 242.0,626.5 242.4,629.5 242.5,632.0 242.4,635.0 242.1,637.5 241.7,640.0 241.0,642.5 240.0,645.0 238.8,647.5 237.5,649.5 236.0,651.5 234.1,653.5 232.4,655.0 230.3,656.5 228.0,657.7 226.0,658.6 223.5,659.4 221.5,659.8 219.0,660.0Z"/><path d="M222.0,657.6 219.5,657.9 217.0,657.9 214.5,657.7 212.5,657.2 210.5,656.6 208.5,655.7 206.5,654.5 204.4,653.0 202.5,651.2 201.0,649.5 199.6,647.5 198.4,645.5 197.3,643.0 196.7,641.0 196.0,638.5 195.6,635.5 195.5,632.5 195.6,629.5 196.1,626.0 196.8,623.0 197.7,620.0 199.0,616.5 200.5,613.0 202.1,610.0 203.6,607.5 205.5,604.9 207.2,603.0 209.0,601.3 211.0,599.9 213.0,598.9 215.0,598.2 217.0,597.9 219.0,597.8 221.0,598.1 223.0,598.7 225.0,599.6 227.0,600.8 228.5,602.0 230.1,603.5 231.7,605.5 233.3,608.0 234.6,610.5 236.2,614.0 237.7,618.0 238.8,621.5 239.6,624.5 240.1,627.5 240.4,630.0 240.5,632.5 240.4,635.0 240.1,637.5 239.7,639.5 239.2,641.5 238.3,644.0 237.3,646.0 236.1,648.0 234.6,650.0 233.2,651.5 231.6,653.0 230.0,654.2 228.0,655.4 226.0,656.4 224.0,657.1 222.0,657.6Z"/><path d="M221.5,655.5 219.5,655.8 217.0,655.8 215.0,655.6 213.0,655.2 211.0,654.5 209.0,653.6 207.2,652.5 205.5,651.3 204.0,649.9 202.5,648.1 201.3,646.5 200.2,644.5 199.3,642.5 198.4,640.0 197.9,637.5 197.6,635.5 197.5,633.0 197.6,630.0 198.0,627.5 198.6,624.5 199.3,622.0 200.4,619.0 201.8,616.0 203.2,613.5 204.5,611.3 206.2,609.0 208.0,607.0 209.5,605.6 211.0,604.4 213.0,603.3 215.0,602.5 217.0,602.2 219.0,602.2 220.5,602.4 222.0,602.8 224.0,603.7 225.5,604.6 227.0,605.7 228.5,607.1 230.1,609.0 231.5,611.0 233.0,613.5 234.3,616.0 235.6,619.0 236.7,622.0 237.4,624.5 238.0,627.5 238.4,630.0 238.5,632.5 238.5,634.5 238.2,637.0 237.8,639.0 237.3,641.0 236.5,643.0 235.6,645.0 234.7,646.5 233.5,648.1 232.0,649.9 230.5,651.3 229.0,652.4 227.5,653.3 225.5,654.3 223.5,655.1 221.5,655.5Z"/><path d="M222.0,653.5 220.0,653.9 218.0,654.0 216.0,653.9 214.0,653.5 212.0,652.9 210.5,652.3 208.5,651.2 207.0,650.1 205.5,648.8 204.0,647.1 202.8,645.5 201.7,643.5 200.8,641.5 200.2,639.5 199.7,637.5 199.4,635.5 199.3,633.5 199.4,631.0 199.7,628.5 200.2,626.0 200.9,623.5 201.8,621.0 203.0,618.5 204.0,616.5 205.5,614.2 207.0,612.2 208.5,610.6 210.0,609.2 211.5,608.1 213.5,607.0 215.5,606.3 217.0,606.0 218.5,606.0 220.0,606.1 221.5,606.5 223.0,607.1 224.5,608.0 226.0,609.1 227.5,610.4 229.0,612.1 230.5,614.1 231.7,616.0 233.0,618.3 234.0,620.5 235.0,623.0 235.7,625.5 236.3,628.0 236.5,630.0 236.7,634.0 236.5,636.0 236.2,638.0 235.2,641.5 234.3,643.5 233.5,645.0 232.5,646.5 231.2,648.0 230.0,649.2 228.5,650.5 227.0,651.5 225.5,652.3 224.0,652.9 222.0,653.5Z"/><path d="M220.0,652.0 218.5,652.2 216.5,652.1 214.5,651.8 213.0,651.4 211.5,650.8 210.0,650.0 208.5,649.0 207.0,647.8 205.8,646.5 204.6,645.0 203.6,643.5 202.9,642.0 202.3,640.5 201.7,638.5 201.3,636.5 201.0,634.5 201.0,632.5 201.1,630.5 201.4,628.5 202.0,626.0 202.8,623.5 203.7,621.5 204.7,619.5 205.9,617.5 207.0,616.0 208.5,614.2 210.0,612.7 211.5,611.6 213.0,610.7 214.5,610.0 216.0,609.6 217.5,609.4 219.0,609.4 220.5,609.7 222.0,610.2 223.5,610.9 226.0,612.7 227.5,614.1 228.7,615.5 230.0,617.3 231.1,619.0 232.1,621.0 233.0,623.0 234.3,627.0 234.7,629.5 235.0,631.5 234.9,635.0 234.3,638.5 233.7,640.5 233.1,642.0 232.4,643.5 231.4,645.0 230.5,646.2 229.3,647.5 228.0,648.6 226.5,649.7 225.0,650.5 223.5,651.2 222.0,651.7 220.0,652.0Z"/><path d="M221.5,650.0 220.0,650.3 218.5,650.5 216.5,650.4 215.0,650.2 213.5,649.7 212.0,649.2 210.5,648.4 209.0,647.3 207.5,646.0 206.6,645.0 205.5,643.5 204.7,642.0 203.5,639.0 203.1,637.5 202.7,635.5 202.6,632.0 202.8,630.0 203.2,628.0 203.7,626.0 204.5,624.0 206.3,620.5 207.3,619.0 208.5,617.4 210.0,615.9 211.5,614.6 213.0,613.7 214.0,613.2 215.5,612.7 217.0,612.4 218.5,612.4 219.5,612.5 221.0,612.8 222.0,613.2 223.5,614.0 224.5,614.6 226.0,615.9 227.1,617.0 228.4,618.5 229.5,620.1 231.3,623.5 232.6,627.0 233.2,630.5 233.4,634.0 233.0,637.0 232.2,640.0 231.6,641.5 230.8,643.0 228.9,645.5 226.7,647.5 224.3,649.0 223.0,649.6 221.5,650.0Z"/><path d="M220.5,648.5 219.0,648.7 217.5,648.8 216.0,648.6 214.5,648.3 212.0,647.3 210.7,646.5 209.5,645.6 207.5,643.5 206.0,641.0 205.3,639.5 204.8,638.0 204.3,635.0 204.2,632.0 204.5,630.0 204.8,628.5 205.4,626.5 205.9,625.0 207.5,622.0 209.5,619.4 210.5,618.4 212.0,617.2 213.0,616.5 214.5,615.8 216.0,615.3 217.0,615.1 218.5,615.1 219.5,615.2 221.0,615.6 222.0,616.0 223.5,616.8 224.5,617.5 226.5,619.4 228.5,622.0 230.0,624.9 231.1,628.0 231.7,631.0 231.8,634.0 231.4,637.0 230.5,640.0 229.2,642.5 227.5,644.6 225.5,646.3 224.5,647.0 223.0,647.7 220.5,648.5Z"/><path d="M219.5,647.1 217.0,647.1 214.5,646.6 212.1,645.5 210.1,644.0 208.4,642.0 207.0,639.6 206.1,637.0 205.7,634.5 205.8,631.5 206.4,628.5 207.5,625.5 208.9,623.0 210.0,621.6 211.0,620.6 213.0,619.0 215.0,618.0 216.0,617.7 217.5,617.5 219.0,617.5 220.0,617.7 222.0,618.4 224.0,619.7 226.0,621.6 227.7,624.0 229.0,626.5 229.8,629.0 230.3,632.0 230.2,635.0 229.8,637.5 228.8,640.0 227.6,642.0 226.0,643.9 224.0,645.4 222.0,646.4 219.5,647.1Z"/><path d="M219.0,645.5 217.5,645.5 216.5,645.4 214.5,644.9 212.5,643.9 210.8,642.5 209.2,640.5 208.2,638.5 207.5,636.5 207.2,634.0 207.3,631.5 207.8,629.0 208.8,626.5 210.0,624.5 211.5,622.7 213.5,621.1 215.5,620.1 217.5,619.7 219.5,619.9 221.5,620.5 223.5,621.8 225.0,623.2 226.5,625.2 227.7,627.5 228.4,630.0 228.8,632.5 228.7,635.0 228.2,637.5 227.4,639.5 226.1,641.5 224.7,643.0 223.0,644.2 221.0,645.1 219.0,645.5Z"/><path d="M220.5,643.5 218.5,643.9 216.5,643.8 214.5,643.2 213.0,642.3 211.5,641.0 210.4,639.5 209.4,637.5 208.9,635.5 208.7,633.5 208.9,631.0 209.5,628.9 210.5,626.7 212.0,624.7 213.5,623.4 215.0,622.5 217.0,621.9 219.0,621.9 220.5,622.3 222.0,623.1 223.5,624.2 225.0,626.0 225.9,627.5 226.7,629.5 227.2,631.5 227.3,633.5 227.1,635.5 226.6,637.5 225.9,639.0 224.9,640.5 223.5,641.9 222.0,642.9 220.5,643.5Z"/><path d="M220.0,642.0 218.5,642.3 217.0,642.2 215.5,641.8 213.9,641.0 212.5,639.8 211.6,638.5 210.8,637.0 210.3,635.0 210.2,633.5 210.4,631.5 210.9,629.5 211.6,628.0 212.7,626.5 214.0,625.3 215.5,624.4 217.0,624.0 218.5,623.9 220.0,624.2 221.5,624.9 222.5,625.7 223.5,626.8 224.5,628.3 225.3,630.0 225.6,631.5 225.8,633.5 225.7,635.0 225.3,636.5 224.7,638.0 223.7,639.5 222.7,640.5 221.5,641.4 220.0,642.0Z"/><path d="M219.0,640.6 217.5,640.6 216.5,640.4 215.0,639.8 214.0,639.0 213.1,638.0 212.5,637.0 212.0,635.7 211.8,634.5 211.7,633.0 211.9,631.5 212.4,630.0 213.0,628.9 214.0,627.6 215.0,626.8 216.0,626.2 217.5,625.9 219.0,625.9 220.0,626.2 221.0,626.8 222.0,627.6 222.7,628.5 223.5,629.8 224.0,631.0 224.3,632.5 224.3,634.0 224.1,635.5 223.5,637.0 223.0,637.9 222.5,638.5 221.4,639.5 220.5,640.1 219.0,640.6Z"/><path d="M219.5,638.7 218.5,639.0 217.5,639.0 216.0,638.5 215.0,637.8 214.3,637.0 213.7,636.0 213.4,635.0 213.2,634.0 213.3,632.5 213.5,631.5 213.9,630.5 215.0,629.0 216.0,628.3 217.0,627.9 218.0,627.7 219.0,627.9 220.5,628.6 221.0,629.0 221.8,630.0 222.3,631.0 222.6,632.0 222.8,633.0 222.8,634.0 222.6,635.0 222.3,636.0 221.7,637.0 221.0,637.8 220.5,638.2 219.5,638.7Z"/><path d="M586.5,665.0 583.5,664.9 580.5,664.4 577.5,663.6 574.5,662.4 572.0,661.0 569.5,659.3 567.0,657.2 565.0,655.1 563.0,652.5 561.5,650.0 560.3,647.5 559.1,644.5 558.3,641.5 557.7,638.0 557.5,635.0 557.6,631.5 557.9,628.0 558.6,624.0 559.7,620.0 561.2,615.0 565.3,603.0 567.2,598.0 569.1,593.5 571.4,589.5 573.5,586.5 575.5,584.2 577.5,582.4 580.0,580.6 582.5,579.2 585.5,578.2 588.0,577.7 591.0,577.6 594.0,578.1 596.5,578.8 599.5,580.3 602.0,582.0 604.5,584.2 606.5,586.5 608.5,589.4 610.2,592.5 611.7,596.0 612.8,599.5 613.9,603.5 614.8,608.5 615.7,615.0 616.3,621.0 616.6,626.5 616.6,631.0 616.3,634.5 615.7,638.0 614.9,641.5 613.9,644.5 612.6,647.5 611.3,650.0 609.6,652.5 607.5,655.2 605.5,657.2 603.0,659.3 600.5,661.0 598.0,662.4 595.5,663.4 592.5,664.3 589.5,664.8 586.5,665.0Z"/><path d="M665.5,642.5 662.5,642.5 659.5,641.9 658.0,641.4 656.5,640.8 655.0,639.9 653.8,639.0 651.7,637.0 649.9,634.5 649.2,633.0 648.6,631.5 648.2,630.0 648.0,628.5 647.9,627.0 648.0,625.5 648.2,624.0 648.6,622.5 649.2,621.0 649.9,619.5 651.7,617.0 652.6,616.0 654.0,614.8 656.5,613.2 658.0,612.6 659.5,612.1 662.5,611.5 665.5,611.5 668.5,612.1 670.0,612.6 671.5,613.2 673.0,614.1 674.2,615.0 676.3,617.0 678.1,619.5 678.8,621.0 679.4,622.5 679.7,624.0 680.0,625.5 680.0,628.5 679.7,630.0 679.4,631.5 678.8,633.0 678.1,634.5 676.3,637.0 675.4,638.0 674.0,639.2 671.5,640.8 670.0,641.4 668.5,641.9 665.5,642.5Z"/><path d="M590.5,662.5 587.5,662.9 584.5,662.9 581.5,662.5 579.0,661.9 576.0,660.8 573.5,659.5 571.0,657.9 568.7,656.0 566.8,654.0 564.8,651.5 563.2,649.0 561.8,646.0 560.8,643.0 560.1,640.5 559.7,637.5 559.5,634.0 559.6,630.5 560.1,627.0 560.9,623.5 562.2,619.0 564.3,613.0 568.8,601.5 570.8,597.0 572.7,593.5 574.5,590.7 576.2,588.5 578.2,586.5 580.5,584.7 582.5,583.5 585.0,582.5 587.5,581.9 590.0,581.7 592.5,581.9 595.0,582.5 597.5,583.5 599.9,585.0 602.0,586.8 604.0,588.9 605.9,591.5 607.4,594.0 608.8,597.0 609.9,600.0 610.9,603.5 611.9,607.5 612.9,613.0 613.7,619.0 614.2,624.0 614.4,628.5 614.3,632.0 614.0,635.0 613.6,638.0 612.8,641.0 611.9,644.0 610.8,646.5 609.8,648.5 608.2,651.0 606.5,653.2 604.5,655.4 602.5,657.1 600.5,658.6 598.0,660.0 595.5,661.2 593.0,662.0 590.5,662.5Z"/><path d="M666.5,635.6 665.0,635.9 663.0,635.9 661.2,635.5 659.5,634.8 658.0,633.8 656.7,632.5 655.8,631.0 655.2,629.5 654.8,628.0 654.8,626.0 655.2,624.5 655.8,623.0 656.7,621.5 658.0,620.2 659.5,619.2 661.0,618.5 662.5,618.2 664.5,618.1 666.5,618.4 668.1,619.0 669.7,620.0 671.0,621.2 672.0,622.6 672.8,624.5 673.2,626.0 673.2,628.0 672.7,630.0 672.0,631.4 671.0,632.8 669.7,634.0 668.1,635.0 666.5,635.6Z"/><path d="M589.5,660.6 587.0,660.8 584.0,660.7 581.5,660.3 579.0,659.7 576.5,658.7 574.0,657.4 571.5,655.7 569.6,654.0 567.7,652.0 566.2,650.0 564.7,647.5 563.6,645.0 562.7,642.5 562.0,639.5 561.6,636.5 561.5,633.5 561.7,630.5 562.2,627.0 563.1,623.0 564.3,619.5 566.2,614.5 570.2,605.5 572.5,600.5 574.5,596.8 576.4,594.0 578.0,592.0 579.5,590.5 581.5,588.8 583.5,587.6 585.5,586.7 587.5,586.2 590.0,586.0 592.5,586.2 594.5,586.8 596.5,587.7 598.5,588.9 600.5,590.6 602.2,592.5 604.0,595.0 605.4,597.5 606.7,600.5 608.0,604.0 609.1,608.0 610.1,612.5 611.0,617.5 611.7,622.0 612.1,626.0 612.2,630.0 612.1,633.0 611.8,636.0 611.3,638.5 610.7,641.0 609.9,643.5 608.8,646.0 607.4,648.5 606.0,650.5 604.4,652.5 602.5,654.4 600.5,656.0 598.5,657.4 596.0,658.7 594.0,659.5 591.5,660.2 589.5,660.6Z"/><path d="M589.0,658.5 586.5,658.7 584.0,658.6 581.5,658.2 579.5,657.6 577.0,656.6 575.0,655.6 573.0,654.2 571.0,652.5 569.2,650.5 567.7,648.5 566.5,646.5 565.3,644.0 564.5,641.5 563.9,639.0 563.6,636.5 563.5,633.5 563.7,630.5 564.2,627.0 565.2,623.5 566.4,620.0 568.1,616.0 570.5,610.9 573.5,605.2 576.0,600.8 577.5,598.6 579.1,596.5 581.0,594.6 582.5,593.3 584.0,592.4 586.0,591.4 588.0,590.9 590.0,590.7 592.0,590.9 594.0,591.5 596.0,592.5 597.5,593.5 599.0,594.9 600.5,596.6 602.0,598.8 603.2,601.0 604.6,604.0 605.8,607.5 607.0,611.5 608.2,616.0 609.1,620.5 609.7,624.0 610.0,627.5 610.1,631.0 610.0,633.5 609.7,636.0 609.3,638.5 608.6,641.0 607.7,643.5 606.8,645.5 605.6,647.5 604.2,649.5 602.5,651.5 601.0,653.0 599.5,654.2 597.5,655.6 595.5,656.6 593.5,657.4 591.0,658.2 589.0,658.5Z"/><path d="M588.0,656.5 586.0,656.6 583.5,656.4 581.5,656.0 579.5,655.4 577.5,654.6 575.5,653.4 573.6,652.0 571.9,650.5 570.5,648.9 569.0,646.8 567.8,644.5 566.9,642.5 566.3,640.5 565.8,638.0 565.5,635.5 565.5,633.0 565.8,630.0 566.3,627.0 567.2,624.0 568.3,621.0 569.6,618.0 571.5,614.4 573.5,610.9 576.0,606.9 578.0,604.0 579.5,602.1 581.4,600.0 583.0,598.6 584.5,597.6 586.5,596.6 588.0,596.2 590.0,596.0 592.0,596.3 593.5,596.8 595.0,597.6 596.5,598.7 598.0,600.2 599.4,602.0 600.5,603.7 601.7,606.0 603.0,608.9 604.4,612.5 605.7,616.5 606.6,620.0 607.3,623.5 607.7,626.5 608.0,629.5 608.0,632.5 607.8,635.0 607.5,637.0 606.9,639.5 606.3,641.5 605.5,643.5 604.4,645.5 603.2,647.5 602.0,649.0 600.5,650.6 599.0,652.0 597.5,653.1 595.5,654.3 593.5,655.2 592.0,655.7 590.0,656.2 588.0,656.5Z"/><path d="M588.5,654.5 586.5,654.7 584.5,654.6 582.5,654.3 580.5,653.7 578.5,652.9 576.8,652.0 575.0,650.8 573.5,649.5 572.0,647.8 570.7,646.0 569.8,644.5 568.9,642.5 568.2,640.5 567.6,638.0 567.4,636.0 567.3,633.5 567.5,631.0 567.9,628.5 568.5,626.0 569.3,623.5 570.4,621.0 571.6,618.5 573.1,616.0 575.0,613.0 577.0,610.2 579.0,607.7 581.0,605.6 582.5,604.2 584.5,602.8 586.0,602.0 588.0,601.3 589.5,601.2 591.0,601.3 592.5,601.8 593.9,602.5 595.0,603.3 596.5,604.6 597.7,606.0 599.0,607.9 600.3,610.0 601.5,612.5 602.8,615.5 603.9,618.5 604.7,621.5 605.3,624.0 605.8,627.0 606.1,629.5 606.1,632.0 605.8,636.0 605.4,638.0 604.9,640.0 603.4,643.5 602.3,645.5 601.3,647.0 600.0,648.5 598.5,650.0 597.0,651.2 595.5,652.1 594.0,652.9 592.0,653.7 590.5,654.2 588.5,654.5Z"/><path d="M589.5,652.6 587.5,652.8 585.5,652.9 583.5,652.7 582.0,652.3 580.0,651.6 578.5,650.9 576.5,649.7 575.1,648.5 573.6,647.0 572.4,645.5 571.5,644.0 570.5,642.0 569.8,640.0 569.3,638.0 569.1,636.0 569.0,634.0 569.1,632.0 569.4,629.5 569.9,627.5 570.7,625.0 571.7,622.5 572.7,620.5 574.0,618.3 575.5,616.1 577.0,614.1 579.0,611.8 581.0,609.8 582.5,608.6 584.5,607.3 586.0,606.6 587.5,606.1 589.0,606.0 590.5,606.1 591.5,606.4 592.5,606.8 594.0,607.7 595.5,608.9 596.5,610.0 597.7,611.5 599.0,613.4 600.2,615.5 601.3,618.0 603.0,622.5 604.0,627.0 604.3,629.5 604.4,631.5 604.1,635.5 603.4,639.0 602.3,642.0 601.5,643.5 600.5,645.1 599.4,646.5 598.0,648.0 595.6,650.0 594.0,650.9 592.5,651.6 589.5,652.6Z"/><path d="M588.5,651.0 587.0,651.2 585.0,651.1 583.5,650.9 581.8,650.5 580.0,649.8 578.5,649.0 577.1,648.0 575.9,647.0 574.5,645.5 573.5,644.1 572.6,642.5 571.9,641.0 571.4,639.5 570.9,637.5 570.7,636.0 570.6,634.0 570.7,632.0 570.9,630.0 571.4,628.0 572.1,626.0 572.9,624.0 573.9,622.0 576.1,618.5 577.5,616.8 579.0,615.1 580.5,613.7 582.5,612.2 584.0,611.2 585.5,610.6 587.0,610.1 588.5,610.0 590.0,610.1 591.0,610.3 592.5,611.0 593.5,611.6 595.0,612.8 596.0,613.8 598.0,616.4 599.0,618.1 600.0,620.1 601.5,624.0 602.4,628.0 602.6,630.0 602.7,632.0 602.5,635.5 601.8,638.5 600.7,641.5 599.9,643.0 598.9,644.5 597.0,646.7 596.0,647.6 594.5,648.7 593.0,649.6 591.5,650.2 590.0,650.7 588.5,651.0Z"/><path d="M589.5,649.1 588.0,649.4 586.5,649.5 585.0,649.4 583.5,649.2 582.0,648.8 580.5,648.2 579.0,647.3 577.9,646.5 576.5,645.3 575.5,644.1 574.7,643.0 573.9,641.5 573.2,640.0 572.8,638.5 572.4,637.0 572.2,635.0 572.2,633.5 572.3,631.5 573.1,628.0 574.5,624.5 575.5,622.7 576.6,621.0 579.0,618.2 580.5,616.7 582.0,615.6 583.5,614.7 585.0,614.0 586.5,613.6 588.0,613.4 589.5,613.5 590.5,613.7 592.5,614.6 594.5,616.1 595.5,617.1 596.6,618.5 598.5,621.5 599.7,624.5 600.7,628.0 601.1,631.5 601.0,634.5 600.4,637.5 599.4,640.5 598.0,643.0 597.0,644.3 596.0,645.4 594.1,647.0 592.0,648.2 589.5,649.1Z"/><path d="M589.0,647.6 587.5,647.8 586.0,647.9 583.5,647.5 581.0,646.6 579.9,646.0 578.5,645.0 576.6,643.0 575.9,642.0 575.1,640.5 574.2,638.0 573.7,635.0 573.8,632.0 574.0,630.5 574.5,628.5 575.8,625.5 577.5,622.7 578.5,621.4 580.0,619.8 582.5,617.9 583.5,617.3 585.0,616.7 586.5,616.3 587.5,616.2 589.5,616.3 591.5,617.0 593.5,618.3 594.5,619.3 595.5,620.4 597.0,622.7 598.3,625.5 599.1,628.5 599.5,631.5 599.5,634.5 599.0,637.0 598.2,639.5 596.8,642.0 595.2,644.0 593.5,645.5 591.5,646.7 589.0,647.6Z"/><path d="M588.5,646.0 586.0,646.2 584.0,646.0 582.5,645.5 581.5,645.1 579.5,643.8 577.8,642.0 577.0,640.8 576.3,639.5 575.5,637.0 575.2,634.5 575.4,631.5 576.0,629.0 577.0,626.5 578.5,624.1 580.5,621.9 582.5,620.3 584.5,619.3 586.0,618.8 587.0,618.7 589.0,618.8 591.0,619.5 592.0,620.0 593.0,620.8 594.5,622.4 595.9,624.5 597.0,626.9 597.7,629.5 598.0,632.0 597.9,634.5 597.5,636.8 596.7,639.0 595.6,641.0 594.0,643.0 592.5,644.3 590.5,645.4 588.5,646.0Z"/><path d="M587.5,644.6 585.5,644.6 583.5,644.2 581.5,643.2 579.9,642.0 578.6,640.5 577.6,638.5 576.9,636.5 576.7,634.0 576.9,631.5 577.5,629.3 578.5,627.0 580.0,624.9 581.5,623.4 583.5,622.0 585.5,621.2 587.5,621.0 589.5,621.3 591.0,622.0 592.5,623.1 593.8,624.5 595.0,626.5 595.8,628.5 596.3,630.5 596.5,633.0 596.4,635.0 595.9,637.0 595.1,639.0 594.0,640.7 592.5,642.3 591.0,643.3 589.5,644.1 587.5,644.6Z"/><path d="M586.5,643.0 585.0,642.9 583.5,642.5 582.0,641.7 580.5,640.3 579.5,639.0 578.6,637.0 578.3,635.5 578.2,633.5 578.4,631.5 579.0,629.5 580.0,627.6 581.3,626.0 582.5,624.8 584.0,623.9 585.5,623.3 586.5,623.1 587.5,623.1 589.0,623.4 590.5,624.1 592.0,625.3 593.0,626.5 593.9,628.0 594.5,629.6 594.9,631.5 595.0,633.5 594.7,635.5 594.3,637.0 593.5,638.7 592.5,640.1 591.5,641.1 590.0,642.1 588.5,642.7 586.5,643.0Z"/><path d="M588.0,641.1 586.5,641.4 585.0,641.2 583.5,640.7 582.5,640.0 581.4,639.0 580.5,637.6 579.9,636.0 579.7,634.5 579.7,633.0 580.0,631.4 580.5,630.0 581.5,628.3 582.6,627.0 584.0,626.0 585.0,625.5 586.5,625.2 588.0,625.2 589.0,625.5 590.0,626.0 591.1,627.0 592.0,628.1 592.8,629.5 593.2,631.0 593.5,632.5 593.4,634.0 593.2,635.5 592.7,637.0 592.1,638.0 591.4,639.0 590.3,640.0 589.0,640.8 588.0,641.1Z"/><path d="M587.5,639.6 586.0,639.7 585.0,639.5 584.0,639.1 583.2,638.5 582.5,637.8 582.0,637.0 581.5,636.0 581.2,634.5 581.2,633.5 581.4,632.0 581.9,630.5 582.5,629.6 583.5,628.5 584.5,627.7 585.5,627.3 586.5,627.1 587.5,627.1 588.5,627.4 589.5,628.0 590.0,628.4 590.6,629.0 591.2,630.0 591.6,631.0 591.9,632.5 591.9,634.0 591.8,635.0 591.5,636.0 591.0,637.0 590.2,638.0 589.5,638.6 588.5,639.2 587.5,639.6Z"/></g>
<text x="0.80" y="388.20" font-size="29.5" text-anchor="start" font-weight="bold" >B</text>
<rect x="141.00" y="404.40" width="279.30" height="293.00" fill="none" stroke="#1c1c1c" stroke-width="1.5"/>
<line x1="132.80" y1="430.80" x2="141.00" y2="430.80" stroke="#1c1c1c" stroke-width="1.3"/>
<line x1="132.80" y1="500.80" x2="141.00" y2="500.80" stroke="#1c1c1c" stroke-width="1.3"/>
<line x1="132.80" y1="581.10" x2="141.00" y2="581.10" stroke="#1c1c1c" stroke-width="1.3"/>
<line x1="132.80" y1="677.30" x2="141.00" y2="677.30" stroke="#1c1c1c" stroke-width="1.3"/>
<line x1="136.50" y1="479.73" x2="141.00" y2="479.73" stroke="#1c1c1c" stroke-width="1.2"/>
<line x1="136.50" y1="467.40" x2="141.00" y2="467.40" stroke="#1c1c1c" stroke-width="1.2"/>
<line x1="136.50" y1="458.66" x2="141.00" y2="458.66" stroke="#1c1c1c" stroke-width="1.2"/>
<line x1="136.50" y1="451.87" x2="141.00" y2="451.87" stroke="#1c1c1c" stroke-width="1.2"/>
<line x1="136.50" y1="446.33" x2="141.00" y2="446.33" stroke="#1c1c1c" stroke-width="1.2"/>
<line x1="136.50" y1="441.64" x2="141.00" y2="441.64" stroke="#1c1c1c" stroke-width="1.2"/>
<line x1="136.50" y1="437.58" x2="141.00" y2="437.58" stroke="#1c1c1c" stroke-width="1.2"/>
<line x1="136.50" y1="434.00" x2="141.00" y2="434.00" stroke="#1c1c1c" stroke-width="1.2"/>
<line x1="136.50" y1="556.93" x2="141.00" y2="556.93" stroke="#1c1c1c" stroke-width="1.2"/>
<line x1="136.50" y1="542.79" x2="141.00" y2="542.79" stroke="#1c1c1c" stroke-width="1.2"/>
<line x1="136.50" y1="532.75" x2="141.00" y2="532.75" stroke="#1c1c1c" stroke-width="1.2"/>
<line x1="136.50" y1="524.97" x2="141.00" y2="524.97" stroke="#1c1c1c" stroke-width="1.2"/>
<line x1="136.50" y1="518.61" x2="141.00" y2="518.61" stroke="#1c1c1c" stroke-width="1.2"/>
<line x1="136.50" y1="513.24" x2="141.00" y2="513.24" stroke="#1c1c1c" stroke-width="1.2"/>
<line x1="136.50" y1="508.58" x2="141.00" y2="508.58" stroke="#1c1c1c" stroke-width="1.2"/>
<line x1="136.50" y1="504.47" x2="141.00" y2="504.47" stroke="#1c1c1c" stroke-width="1.2"/>
<line x1="136.50" y1="409.73" x2="141.00" y2="409.73" stroke="#1c1c1c" stroke-width="1.2"/>
<line x1="136.50" y1="586.30" x2="141.00" y2="586.30" stroke="#1c1c1c" stroke-width="1.2"/>
<line x1="136.50" y1="589.60" x2="141.00" y2="589.60" stroke="#1c1c1c" stroke-width="1.2"/>
<line x1="136.50" y1="594.40" x2="141.00" y2="594.40" stroke="#1c1c1c" stroke-width="1.2"/>
<line x1="136.50" y1="598.30" x2="141.00" y2="598.30" stroke="#1c1c1c" stroke-width="1.2"/>
<line x1="136.50" y1="608.00" x2="141.00" y2="608.00" stroke="#1c1c1c" stroke-width="1.2"/>
<line x1="136.50" y1="613.60" x2="141.00" y2="613.60" stroke="#1c1c1c" stroke-width="1.2"/>
<line x1="136.50" y1="619.10" x2="141.00" y2="619.10" stroke="#1c1c1c" stroke-width="1.2"/>
<line x1="136.50" y1="640.40" x2="141.00" y2="640.40" stroke="#1c1c1c" stroke-width="1.2"/>
<line x1="136.50" y1="645.90" x2="141.00" y2="645.90" stroke="#1c1c1c" stroke-width="1.2"/>
<line x1="136.50" y1="651.50" x2="141.00" y2="651.50" stroke="#1c1c1c" stroke-width="1.2"/>
<line x1="136.50" y1="662.50" x2="141.00" y2="662.50" stroke="#1c1c1c" stroke-width="1.2"/>
<line x1="136.50" y1="667.20" x2="141.00" y2="667.20" stroke="#1c1c1c" stroke-width="1.2"/>
<line x1="136.50" y1="671.80" x2="141.00" y2="671.80" stroke="#1c1c1c" stroke-width="1.2"/>
<line x1="135.50" y1="604.30" x2="141.00" y2="604.30" stroke="#1c1c1c" stroke-width="1.2"/>
<line x1="135.50" y1="657.50" x2="141.00" y2="657.50" stroke="#1c1c1c" stroke-width="1.2"/>
<rect x="136.80" y="622.6" width="4.2" height="13" fill="#111"/>
<line x1="133.00" y1="623.20" x2="141.00" y2="623.20" stroke="#1c1c1c" stroke-width="1.5"/>
<line x1="133.00" y1="629.90" x2="141.00" y2="629.90" stroke="#1c1c1c" stroke-width="1.6"/>
<line x1="133.00" y1="635.00" x2="141.00" y2="635.00" stroke="#1c1c1c" stroke-width="1.5"/>
<line x1="135.50" y1="626.50" x2="141.00" y2="626.50" stroke="#1c1c1c" stroke-width="1.3"/>
<line x1="135.50" y1="632.50" x2="141.00" y2="632.50" stroke="#1c1c1c" stroke-width="1.3"/>
<line x1="157.70" y1="697.40" x2="157.70" y2="705.40" stroke="#1c1c1c" stroke-width="1.3"/>
<line x1="249.10" y1="697.40" x2="249.10" y2="705.40" stroke="#1c1c1c" stroke-width="1.3"/>
<line x1="325.30" y1="697.40" x2="325.30" y2="705.40" stroke="#1c1c1c" stroke-width="1.3"/>
<line x1="392.20" y1="697.40" x2="392.20" y2="705.40" stroke="#1c1c1c" stroke-width="1.3"/>
<line x1="272.04" y1="697.40" x2="272.04" y2="702.20" stroke="#1c1c1c" stroke-width="1.2"/>
<line x1="285.46" y1="697.40" x2="285.46" y2="702.20" stroke="#1c1c1c" stroke-width="1.2"/>
<line x1="294.98" y1="697.40" x2="294.98" y2="702.20" stroke="#1c1c1c" stroke-width="1.2"/>
<line x1="302.36" y1="697.40" x2="302.36" y2="702.20" stroke="#1c1c1c" stroke-width="1.2"/>
<line x1="308.40" y1="697.40" x2="308.40" y2="702.20" stroke="#1c1c1c" stroke-width="1.2"/>
<line x1="313.50" y1="697.40" x2="313.50" y2="702.20" stroke="#1c1c1c" stroke-width="1.2"/>
<line x1="317.92" y1="697.40" x2="317.92" y2="702.20" stroke="#1c1c1c" stroke-width="1.2"/>
<line x1="321.81" y1="697.40" x2="321.81" y2="702.20" stroke="#1c1c1c" stroke-width="1.2"/>
<line x1="345.44" y1="697.40" x2="345.44" y2="702.20" stroke="#1c1c1c" stroke-width="1.2"/>
<line x1="357.22" y1="697.40" x2="357.22" y2="702.20" stroke="#1c1c1c" stroke-width="1.2"/>
<line x1="365.58" y1="697.40" x2="365.58" y2="702.20" stroke="#1c1c1c" stroke-width="1.2"/>
<line x1="372.06" y1="697.40" x2="372.06" y2="702.20" stroke="#1c1c1c" stroke-width="1.2"/>
<line x1="377.36" y1="697.40" x2="377.36" y2="702.20" stroke="#1c1c1c" stroke-width="1.2"/>
<line x1="381.84" y1="697.40" x2="381.84" y2="702.20" stroke="#1c1c1c" stroke-width="1.2"/>
<line x1="385.72" y1="697.40" x2="385.72" y2="702.20" stroke="#1c1c1c" stroke-width="1.2"/>
<line x1="389.14" y1="697.40" x2="389.14" y2="702.20" stroke="#1c1c1c" stroke-width="1.2"/>
<line x1="412.34" y1="697.40" x2="412.34" y2="702.20" stroke="#1c1c1c" stroke-width="1.2"/>
<line x1="161.20" y1="697.40" x2="161.20" y2="702.20" stroke="#1c1c1c" stroke-width="1.2"/>
<line x1="165.10" y1="697.40" x2="165.10" y2="702.20" stroke="#1c1c1c" stroke-width="1.2"/>
<line x1="168.80" y1="697.40" x2="168.80" y2="702.20" stroke="#1c1c1c" stroke-width="1.2"/>
<line x1="172.30" y1="697.40" x2="172.30" y2="702.20" stroke="#1c1c1c" stroke-width="1.2"/>
<line x1="175.10" y1="697.40" x2="175.10" y2="702.20" stroke="#1c1c1c" stroke-width="1.2"/>
<line x1="182.10" y1="697.40" x2="182.10" y2="702.20" stroke="#1c1c1c" stroke-width="1.2"/>
<line x1="185.60" y1="697.40" x2="185.60" y2="702.20" stroke="#1c1c1c" stroke-width="1.2"/>
<line x1="189.00" y1="697.40" x2="189.00" y2="702.20" stroke="#1c1c1c" stroke-width="1.2"/>
<line x1="191.80" y1="697.40" x2="191.80" y2="702.20" stroke="#1c1c1c" stroke-width="1.2"/>
<line x1="194.60" y1="697.40" x2="194.60" y2="702.20" stroke="#1c1c1c" stroke-width="1.2"/>
<line x1="214.20" y1="697.40" x2="214.20" y2="702.20" stroke="#1c1c1c" stroke-width="1.2"/>
<line x1="218.30" y1="697.40" x2="218.30" y2="702.20" stroke="#1c1c1c" stroke-width="1.2"/>
<line x1="222.50" y1="697.40" x2="222.50" y2="702.20" stroke="#1c1c1c" stroke-width="1.2"/>
<line x1="226.00" y1="697.40" x2="226.00" y2="702.20" stroke="#1c1c1c" stroke-width="1.2"/>
<line x1="233.70" y1="697.40" x2="233.70" y2="702.20" stroke="#1c1c1c" stroke-width="1.2"/>
<line x1="237.20" y1="697.40" x2="237.20" y2="702.20" stroke="#1c1c1c" stroke-width="1.2"/>
<line x1="240.70" y1="697.40" x2="240.70" y2="702.20" stroke="#1c1c1c" stroke-width="1.2"/>
<line x1="243.40" y1="697.40" x2="243.40" y2="702.20" stroke="#1c1c1c" stroke-width="1.2"/>
<line x1="246.20" y1="697.40" x2="246.20" y2="702.20" stroke="#1c1c1c" stroke-width="1.2"/>
<line x1="177.90" y1="697.40" x2="177.90" y2="703.40" stroke="#1c1c1c" stroke-width="1.2"/>
<line x1="229.50" y1="697.40" x2="229.50" y2="703.40" stroke="#1c1c1c" stroke-width="1.2"/>
<rect x="197.20" y="697.40" width="12.6" height="5" fill="#111"/>
<rect x="200.50" y="697.40" width="4.5" height="7.5" fill="#111"/>
<line x1="197.90" y1="697.40" x2="197.90" y2="705.60" stroke="#1c1c1c" stroke-width="1.5"/>
<line x1="202.80" y1="697.40" x2="202.80" y2="705.60" stroke="#1c1c1c" stroke-width="1.6"/>
<line x1="209.10" y1="697.40" x2="209.10" y2="705.60" stroke="#1c1c1c" stroke-width="1.5"/>
<text transform="translate(125.30,442.50) scale(1,1.05)" x="0" y="0" font-size="22" text-anchor="end" >10<tspan font-size="15.5" dy="-8.2" dx="1.8">5</tspan></text>
<text transform="translate(125.30,512.20) scale(1,1.05)" x="0" y="0" font-size="22" text-anchor="end" >10<tspan font-size="15.5" dy="-8.2" dx="1.8">4</tspan></text>
<text transform="translate(125.30,592.00) scale(1,1.05)" x="0" y="0" font-size="22" text-anchor="end" >10<tspan font-size="15.5" dy="-8.2" dx="1.8">3</tspan></text>
<text transform="translate(125.80,637.70) scale(1,1.05)" x="0" y="0" font-size="22" text-anchor="end" >0</text>
<text transform="translate(203.70,741.80) scale(1,1.05)" x="0" y="0" font-size="22" text-anchor="middle" >0</text>
<text transform="translate(249.60,741.70) scale(1,1.05)" x="0" y="0" font-size="22" text-anchor="middle" >10<tspan font-size="15.5" dy="-8.2" dx="1.8">3</tspan></text>
<text transform="translate(325.80,741.70) scale(1,1.05)" x="0" y="0" font-size="22" text-anchor="middle" >10<tspan font-size="15.5" dy="-8.2" dx="1.8">4</tspan></text>
<text transform="translate(392.70,741.70) scale(1,1.05)" x="0" y="0" font-size="22" text-anchor="middle" >10<tspan font-size="15.5" dy="-8.2" dx="1.8">5</tspan></text>
<text transform="translate(239.20,392.80) scale(1,1.05)" x="0" y="0" font-size="22" text-anchor="start" >SR-BI<tspan font-size="16.5" dy="-7.5">+/+</tspan></text>
<polygon points="262.4,455.8 409.5,467.7 408.2,593.2 256.1,585.6" fill="none" stroke="#262626" stroke-width="1.9" stroke-linejoin="miter"/>
<polygon points="256.1,590.2 405.7,597.0 401.9,693.4 260.4,686.5" fill="none" stroke="#262626" stroke-width="1.9" stroke-linejoin="miter"/>
<text transform="translate(264.50,535.00) scale(1,1.05)" x="0" y="0" font-size="19" text-anchor="start" >1.73% ± 0.04%</text>
<text transform="translate(265.80,666.70) scale(1,1.05)" x="0" y="0" font-size="19" text-anchor="start" >2.03% ± 0.27%</text>
<rect x="508.80" y="404.40" width="279.30" height="293.00" fill="none" stroke="#1c1c1c" stroke-width="1.5"/>
<line x1="500.60" y1="430.80" x2="508.80" y2="430.80" stroke="#1c1c1c" stroke-width="1.3"/>
<line x1="500.60" y1="500.80" x2="508.80" y2="500.80" stroke="#1c1c1c" stroke-width="1.3"/>
<line x1="500.60" y1="581.10" x2="508.80" y2="581.10" stroke="#1c1c1c" stroke-width="1.3"/>
<line x1="500.60" y1="677.30" x2="508.80" y2="677.30" stroke="#1c1c1c" stroke-width="1.3"/>
<line x1="504.30" y1="479.73" x2="508.80" y2="479.73" stroke="#1c1c1c" stroke-width="1.2"/>
<line x1="504.30" y1="467.40" x2="508.80" y2="467.40" stroke="#1c1c1c" stroke-width="1.2"/>
<line x1="504.30" y1="458.66" x2="508.80" y2="458.66" stroke="#1c1c1c" stroke-width="1.2"/>
<line x1="504.30" y1="451.87" x2="508.80" y2="451.87" stroke="#1c1c1c" stroke-width="1.2"/>
<line x1="504.30" y1="446.33" x2="508.80" y2="446.33" stroke="#1c1c1c" stroke-width="1.2"/>
<line x1="504.30" y1="441.64" x2="508.80" y2="441.64" stroke="#1c1c1c" stroke-width="1.2"/>
<line x1="504.30" y1="437.58" x2="508.80" y2="437.58" stroke="#1c1c1c" stroke-width="1.2"/>
<line x1="504.30" y1="434.00" x2="508.80" y2="434.00" stroke="#1c1c1c" stroke-width="1.2"/>
<line x1="504.30" y1="556.93" x2="508.80" y2="556.93" stroke="#1c1c1c" stroke-width="1.2"/>
<line x1="504.30" y1="542.79" x2="508.80" y2="542.79" stroke="#1c1c1c" stroke-width="1.2"/>
<line x1="504.30" y1="532.75" x2="508.80" y2="532.75" stroke="#1c1c1c" stroke-width="1.2"/>
<line x1="504.30" y1="524.97" x2="508.80" y2="524.97" stroke="#1c1c1c" stroke-width="1.2"/>
<line x1="504.30" y1="518.61" x2="508.80" y2="518.61" stroke="#1c1c1c" stroke-width="1.2"/>
<line x1="504.30" y1="513.24" x2="508.80" y2="513.24" stroke="#1c1c1c" stroke-width="1.2"/>
<line x1="504.30" y1="508.58" x2="508.80" y2="508.58" stroke="#1c1c1c" stroke-width="1.2"/>
<line x1="504.30" y1="504.47" x2="508.80" y2="504.47" stroke="#1c1c1c" stroke-width="1.2"/>
<line x1="504.30" y1="409.73" x2="508.80" y2="409.73" stroke="#1c1c1c" stroke-width="1.2"/>
<line x1="504.30" y1="586.30" x2="508.80" y2="586.30" stroke="#1c1c1c" stroke-width="1.2"/>
<line x1="504.30" y1="589.60" x2="508.80" y2="589.60" stroke="#1c1c1c" stroke-width="1.2"/>
<line x1="504.30" y1="594.40" x2="508.80" y2="594.40" stroke="#1c1c1c" stroke-width="1.2"/>
<line x1="504.30" y1="598.30" x2="508.80" y2="598.30" stroke="#1c1c1c" stroke-width="1.2"/>
<line x1="504.30" y1="608.00" x2="508.80" y2="608.00" stroke="#1c1c1c" stroke-width="1.2"/>
<line x1="504.30" y1="613.60" x2="508.80" y2="613.60" stroke="#1c1c1c" stroke-width="1.2"/>
<line x1="504.30" y1="619.10" x2="508.80" y2="619.10" stroke="#1c1c1c" stroke-width="1.2"/>
<line x1="504.30" y1="640.40" x2="508.80" y2="640.40" stroke="#1c1c1c" stroke-width="1.2"/>
<line x1="504.30" y1="645.90" x2="508.80" y2="645.90" stroke="#1c1c1c" stroke-width="1.2"/>
<line x1="504.30" y1="651.50" x2="508.80" y2="651.50" stroke="#1c1c1c" stroke-width="1.2"/>
<line x1="504.30" y1="662.50" x2="508.80" y2="662.50" stroke="#1c1c1c" stroke-width="1.2"/>
<line x1="504.30" y1="667.20" x2="508.80" y2="667.20" stroke="#1c1c1c" stroke-width="1.2"/>
<line x1="504.30" y1="671.80" x2="508.80" y2="671.80" stroke="#1c1c1c" stroke-width="1.2"/>
<line x1="503.30" y1="604.30" x2="508.80" y2="604.30" stroke="#1c1c1c" stroke-width="1.2"/>
<line x1="503.30" y1="657.50" x2="508.80" y2="657.50" stroke="#1c1c1c" stroke-width="1.2"/>
<rect x="504.60" y="622.6" width="4.2" height="13" fill="#111"/>
<line x1="500.80" y1="623.20" x2="508.80" y2="623.20" stroke="#1c1c1c" stroke-width="1.5"/>
<line x1="500.80" y1="629.90" x2="508.80" y2="629.90" stroke="#1c1c1c" stroke-width="1.6"/>
<line x1="500.80" y1="635.00" x2="508.80" y2="635.00" stroke="#1c1c1c" stroke-width="1.5"/>
<line x1="503.30" y1="626.50" x2="508.80" y2="626.50" stroke="#1c1c1c" stroke-width="1.3"/>
<line x1="503.30" y1="632.50" x2="508.80" y2="632.50" stroke="#1c1c1c" stroke-width="1.3"/>
<line x1="525.50" y1="697.40" x2="525.50" y2="705.40" stroke="#1c1c1c" stroke-width="1.3"/>
<line x1="616.90" y1="697.40" x2="616.90" y2="705.40" stroke="#1c1c1c" stroke-width="1.3"/>
<line x1="693.10" y1="697.40" x2="693.10" y2="705.40" stroke="#1c1c1c" stroke-width="1.3"/>
<line x1="760.00" y1="697.40" x2="760.00" y2="705.40" stroke="#1c1c1c" stroke-width="1.3"/>
<line x1="639.84" y1="697.40" x2="639.84" y2="702.20" stroke="#1c1c1c" stroke-width="1.2"/>
<line x1="653.26" y1="697.40" x2="653.26" y2="702.20" stroke="#1c1c1c" stroke-width="1.2"/>
<line x1="662.78" y1="697.40" x2="662.78" y2="702.20" stroke="#1c1c1c" stroke-width="1.2"/>
<line x1="670.16" y1="697.40" x2="670.16" y2="702.20" stroke="#1c1c1c" stroke-width="1.2"/>
<line x1="676.20" y1="697.40" x2="676.20" y2="702.20" stroke="#1c1c1c" stroke-width="1.2"/>
<line x1="681.30" y1="697.40" x2="681.30" y2="702.20" stroke="#1c1c1c" stroke-width="1.2"/>
<line x1="685.72" y1="697.40" x2="685.72" y2="702.20" stroke="#1c1c1c" stroke-width="1.2"/>
<line x1="689.61" y1="697.40" x2="689.61" y2="702.20" stroke="#1c1c1c" stroke-width="1.2"/>
<line x1="713.24" y1="697.40" x2="713.24" y2="702.20" stroke="#1c1c1c" stroke-width="1.2"/>
<line x1="725.02" y1="697.40" x2="725.02" y2="702.20" stroke="#1c1c1c" stroke-width="1.2"/>
<line x1="733.38" y1="697.40" x2="733.38" y2="702.20" stroke="#1c1c1c" stroke-width="1.2"/>
<line x1="739.86" y1="697.40" x2="739.86" y2="702.20" stroke="#1c1c1c" stroke-width="1.2"/>
<line x1="745.16" y1="697.40" x2="745.16" y2="702.20" stroke="#1c1c1c" stroke-width="1.2"/>
<line x1="749.64" y1="697.40" x2="749.64" y2="702.20" stroke="#1c1c1c" stroke-width="1.2"/>
<line x1="753.52" y1="697.40" x2="753.52" y2="702.20" stroke="#1c1c1c" stroke-width="1.2"/>
<line x1="756.94" y1="697.40" x2="756.94" y2="702.20" stroke="#1c1c1c" stroke-width="1.2"/>
<line x1="780.14" y1="697.40" x2="780.14" y2="702.20" stroke="#1c1c1c" stroke-width="1.2"/>
<line x1="529.00" y1="697.40" x2="529.00" y2="702.20" stroke="#1c1c1c" stroke-width="1.2"/>
<line x1="532.90" y1="697.40" x2="532.90" y2="702.20" stroke="#1c1c1c" stroke-width="1.2"/>
<line x1="536.60" y1="697.40" x2="536.60" y2="702.20" stroke="#1c1c1c" stroke-width="1.2"/>
<line x1="540.10" y1="697.40" x2="540.10" y2="702.20" stroke="#1c1c1c" stroke-width="1.2"/>
<line x1="542.90" y1="697.40" x2="542.90" y2="702.20" stroke="#1c1c1c" stroke-width="1.2"/>
<line x1="549.90" y1="697.40" x2="549.90" y2="702.20" stroke="#1c1c1c" stroke-width="1.2"/>
<line x1="553.40" y1="697.40" x2="553.40" y2="702.20" stroke="#1c1c1c" stroke-width="1.2"/>
<line x1="556.80" y1="697.40" x2="556.80" y2="702.20" stroke="#1c1c1c" stroke-width="1.2"/>
<line x1="559.60" y1="697.40" x2="559.60" y2="702.20" stroke="#1c1c1c" stroke-width="1.2"/>
<line x1="562.40" y1="697.40" x2="562.40" y2="702.20" stroke="#1c1c1c" stroke-width="1.2"/>
<line x1="582.00" y1="697.40" x2="582.00" y2="702.20" stroke="#1c1c1c" stroke-width="1.2"/>
<line x1="586.10" y1="697.40" x2="586.10" y2="702.20" stroke="#1c1c1c" stroke-width="1.2"/>
<line x1="590.30" y1="697.40" x2="590.30" y2="702.20" stroke="#1c1c1c" stroke-width="1.2"/>
<line x1="593.80" y1="697.40" x2="593.80" y2="702.20" stroke="#1c1c1c" stroke-width="1.2"/>
<line x1="601.50" y1="697.40" x2="601.50" y2="702.20" stroke="#1c1c1c" stroke-width="1.2"/>
<line x1="605.00" y1="697.40" x2="605.00" y2="702.20" stroke="#1c1c1c" stroke-width="1.2"/>
<line x1="608.50" y1="697.40" x2="608.50" y2="702.20" stroke="#1c1c1c" stroke-width="1.2"/>
<line x1="611.20" y1="697.40" x2="611.20" y2="702.20" stroke="#1c1c1c" stroke-width="1.2"/>
<line x1="614.00" y1="697.40" x2="614.00" y2="702.20" stroke="#1c1c1c" stroke-width="1.2"/>
<line x1="545.70" y1="697.40" x2="545.70" y2="703.40" stroke="#1c1c1c" stroke-width="1.2"/>
<line x1="597.30" y1="697.40" x2="597.30" y2="703.40" stroke="#1c1c1c" stroke-width="1.2"/>
<rect x="565.00" y="697.40" width="12.6" height="5" fill="#111"/>
<rect x="568.30" y="697.40" width="4.5" height="7.5" fill="#111"/>
<line x1="565.70" y1="697.40" x2="565.70" y2="705.60" stroke="#1c1c1c" stroke-width="1.5"/>
<line x1="570.60" y1="697.40" x2="570.60" y2="705.60" stroke="#1c1c1c" stroke-width="1.6"/>
<line x1="576.90" y1="697.40" x2="576.90" y2="705.60" stroke="#1c1c1c" stroke-width="1.5"/>
<text transform="translate(493.10,442.50) scale(1,1.05)" x="0" y="0" font-size="22" text-anchor="end" >10<tspan font-size="15.5" dy="-8.2" dx="1.8">5</tspan></text>
<text transform="translate(493.10,512.20) scale(1,1.05)" x="0" y="0" font-size="22" text-anchor="end" >10<tspan font-size="15.5" dy="-8.2" dx="1.8">4</tspan></text>
<text transform="translate(493.10,592.00) scale(1,1.05)" x="0" y="0" font-size="22" text-anchor="end" >10<tspan font-size="15.5" dy="-8.2" dx="1.8">3</tspan></text>
<text transform="translate(493.60,637.70) scale(1,1.05)" x="0" y="0" font-size="22" text-anchor="end" >0</text>
<text transform="translate(571.50,741.80) scale(1,1.05)" x="0" y="0" font-size="22" text-anchor="middle" >0</text>
<text transform="translate(617.40,741.70) scale(1,1.05)" x="0" y="0" font-size="22" text-anchor="middle" >10<tspan font-size="15.5" dy="-8.2" dx="1.8">3</tspan></text>
<text transform="translate(693.60,741.70) scale(1,1.05)" x="0" y="0" font-size="22" text-anchor="middle" >10<tspan font-size="15.5" dy="-8.2" dx="1.8">4</tspan></text>
<text transform="translate(760.50,741.70) scale(1,1.05)" x="0" y="0" font-size="22" text-anchor="middle" >10<tspan font-size="15.5" dy="-8.2" dx="1.8">5</tspan></text>
<text transform="translate(607.60,392.80) scale(1,1.05)" x="0" y="0" font-size="22" text-anchor="start" >SR-BI<tspan font-size="16.5" dy="-7.5">−/−</tspan></text>
<polygon points="629.6,455.8 776.0,467.4 774.4,592.8 622.8,584.7" fill="none" stroke="#262626" stroke-width="1.9" stroke-linejoin="miter"/>
<polygon points="622.8,590.4 772.0,597.1 769.3,693.7 626.8,686.5" fill="none" stroke="#262626" stroke-width="1.9" stroke-linejoin="miter"/>
<text transform="translate(637.10,522.10) scale(1,1.05)" x="0" y="0" font-size="19" text-anchor="start" >1.75% ± 0.05%</text>
<text transform="translate(634.90,677.40) scale(1,1.05)" x="0" y="0" font-size="19" text-anchor="start" >3.11% ± 0.45%</text>
<line x1="78.50" y1="431.00" x2="78.50" y2="632.00" stroke="#1c1c1c" stroke-width="1.3"/>
<path d="M78.5,420.1 L83.8,433.8 L78.5,431.3 L73.2,433.8 Z" fill="#111"/>
<text transform="translate(90.40,664.40) rotate(-90) scale(1,1.1)" x="0" y="0" font-size="27.5" text-anchor="middle">CD4</text>
<text transform="translate(146.00,771.60) scale(1,1.05)" x="0" y="0" font-size="22" text-anchor="start" >IL-17A</text>
<line x1="219.70" y1="765.50" x2="756.00" y2="765.50" stroke="#1c1c1c" stroke-width="1.3"/>
<path d="M764.6,765.5 L751.2,760 L754.3,765.5 L751.2,770.8 Z" fill="#111"/>
</svg></body></html>
